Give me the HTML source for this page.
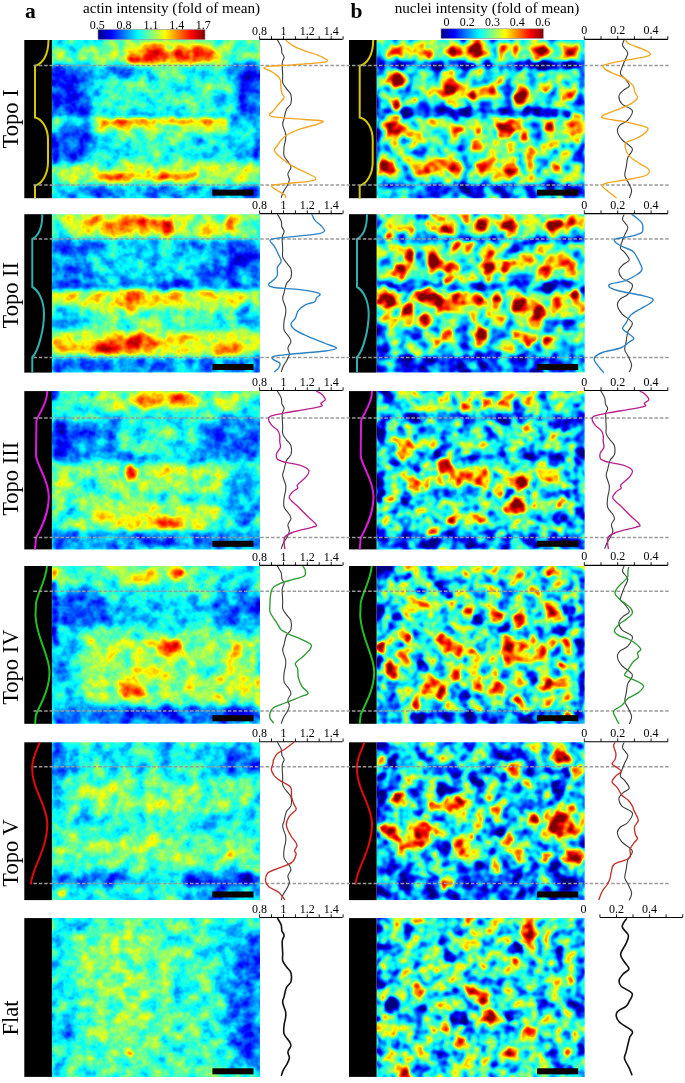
<!DOCTYPE html><html><head><meta charset="utf-8"><style>html,body{margin:0;padding:0;background:#fff;width:685px;height:1083px;overflow:hidden}svg{display:block;will-change:transform}text{font-family:"Liberation Serif",serif}</style></head><body>
<svg width="685" height="1083" viewBox="0 0 685 1083">
<defs>
<linearGradient id="jetg" x1="0" x2="1" y1="0" y2="0"><stop offset="0" stop-color="#000080"/><stop offset="0.0625" stop-color="#0000bf"/><stop offset="0.125" stop-color="#0000ff"/><stop offset="0.1875" stop-color="#0040ff"/><stop offset="0.25" stop-color="#0080ff"/><stop offset="0.3125" stop-color="#00bfff"/><stop offset="0.375" stop-color="#00ffff"/><stop offset="0.4375" stop-color="#40ffbf"/><stop offset="0.5" stop-color="#80ff80"/><stop offset="0.5625" stop-color="#bfff40"/><stop offset="0.625" stop-color="#ffff00"/><stop offset="0.6875" stop-color="#ffbf00"/><stop offset="0.75" stop-color="#ff8000"/><stop offset="0.8125" stop-color="#ff4000"/><stop offset="0.875" stop-color="#ff0000"/><stop offset="0.9375" stop-color="#bf0000"/><stop offset="1" stop-color="#800000"/></linearGradient>
<filter id="soft3" filterUnits="userSpaceOnUse" x="0" y="0" width="685" height="1083"><feGaussianBlur stdDeviation="3"/></filter>
<filter id="soft5" filterUnits="userSpaceOnUse" x="0" y="0" width="685" height="1083"><feGaussianBlur stdDeviation="5"/></filter>
<filter id="soft8" filterUnits="userSpaceOnUse" x="0" y="0" width="685" height="1083"><feGaussianBlur stdDeviation="8"/></filter>
</defs>
<rect width="685" height="1083" fill="#fff"/>
<text x="25" y="18.2" font-size="21.5" font-weight="bold">a</text>
<text x="350.5" y="18.2" font-size="21.5" font-weight="bold">b</text>
<text x="171.5" y="12.6" font-size="15.2" text-anchor="middle">actin intensity (fold of mean)</text>
<text x="487" y="12.6" font-size="15.2" text-anchor="middle">nuclei intensity (fold of mean)</text>
<rect x="98" y="29.6" width="107" height="10" fill="url(#jetg)" stroke="#888" stroke-width="0.6"/>
<rect x="441" y="28.8" width="102.3" height="9.6" fill="url(#jetg)" stroke="#888" stroke-width="0.6"/>
<text x="97.2" y="28.5" font-size="12" text-anchor="middle">0.5</text>
<text x="124.0" y="28.5" font-size="12" text-anchor="middle">0.8</text>
<text x="151.0" y="28.5" font-size="12" text-anchor="middle">1.1</text>
<text x="176.8" y="28.5" font-size="12" text-anchor="middle">1.4</text>
<text x="203.2" y="28.5" font-size="12" text-anchor="middle">1.7</text>
<text x="446.4" y="25.6" font-size="12" text-anchor="middle">0</text>
<text x="467.2" y="25.6" font-size="12" text-anchor="middle">0.2</text>
<text x="492.4" y="25.6" font-size="12" text-anchor="middle">0.3</text>
<text x="517.3" y="25.6" font-size="12" text-anchor="middle">0.4</text>
<text x="542.8" y="25.6" font-size="12" text-anchor="middle">0.6</text>
<clipPath id="c0a"><rect x="51.90" y="40.00" width="208.10" height="158.20"/></clipPath>
<filter id="f0a" filterUnits="userSpaceOnUse" x="31.9" y="20.0" width="248.1" height="198.2" color-interpolation-filters="sRGB">
<feTurbulence type="fractalNoise" baseFrequency="0.1" numOctaves="2" seed="51" result="dn"/>
<feDisplacementMap in="SourceGraphic" in2="dn" scale="5" xChannelSelector="R" yChannelSelector="G" result="dsp"/>
<feGaussianBlur in="dsp" stdDeviation="2.2" result="bl"/>
<feTurbulence type="fractalNoise" baseFrequency="0.075" numOctaves="3" seed="1" result="tn"/>
<feColorMatrix in="tn" type="matrix" values="1 0 0 0 0 1 0 0 0 0 1 0 0 0 0 0 0 0 0 1" result="tg"/>
<feComposite in="bl" in2="tg" operator="arithmetic" k1="0" k2="1" k3="0.45" k4="-0.225" result="sm"/>
<feComponentTransfer in="sm"><feFuncR type="table" tableValues="0 0 0 0 0.5 1 1 1 0.5"/><feFuncG type="table" tableValues="0 0 0.5 1 1 1 0.5 0 0"/><feFuncB type="table" tableValues="0.5 1 1 1 0.5 0 0 0 0"/><feFuncA type="linear" slope="0" intercept="1"/></feComponentTransfer>
</filter>
<g clip-path="url(#c0a)"><g filter="url(#f0a)">
<rect x="36.9" y="25.0" width="238.1" height="188.2" fill="#6b6b6b"/>
<rect x="51.9" y="40.0" width="208.0" height="25.0" rx="0" fill="#7a7a7a" filter="url(#soft3)"/>
<ellipse cx="69.9" cy="44.0" rx="14.0" ry="5.0" fill="#4c4c4c" filter="url(#soft3)"/>
<ellipse cx="93.9" cy="43.0" rx="10.0" ry="4.0" fill="#4c4c4c" filter="url(#soft3)"/>
<ellipse cx="91.9" cy="59.0" rx="40.0" ry="4.0" fill="#8f8f8f" filter="url(#soft3)"/>
<ellipse cx="69.9" cy="61.0" rx="3.0" ry="2.0" fill="#b2b2b2"/>
<ellipse cx="81.9" cy="59.0" rx="3.0" ry="2.0" fill="#adadad"/>
<ellipse cx="131.9" cy="45.0" rx="5.0" ry="3.0" fill="#999999"/>
<ellipse cx="173.9" cy="54.0" rx="47.0" ry="11.0" fill="#cccccc" filter="url(#soft3)"/>
<ellipse cx="159.9" cy="57.0" rx="10.0" ry="6.0" fill="#ededed"/>
<ellipse cx="139.9" cy="60.0" rx="12.0" ry="4.0" fill="#e6e6e6"/>
<ellipse cx="203.9" cy="54.0" rx="9.0" ry="7.0" fill="#dbdbdb"/>
<ellipse cx="169.9" cy="47.0" rx="6.0" ry="3.0" fill="#737373"/>
<ellipse cx="241.9" cy="52.0" rx="20.0" ry="10.0" fill="#7a7a7a" filter="url(#soft3)"/>
<rect x="46.9" y="65.0" width="45.0" height="58.0" rx="0" fill="#333333" filter="url(#soft5)"/>
<ellipse cx="63.9" cy="80.0" rx="14.0" ry="12.0" fill="#242424" filter="url(#soft3)"/>
<rect x="91.9" y="65.0" width="45.0" height="14.0" rx="0" fill="#454545" filter="url(#soft3)"/>
<rect x="129.9" y="66.0" width="102.0" height="50.0" rx="0" fill="#696969" filter="url(#soft5)"/>
<rect x="233.9" y="65.0" width="30.0" height="56.0" rx="0" fill="#333333" filter="url(#soft5)"/>
<ellipse cx="249.9" cy="73.0" rx="10.0" ry="10.0" fill="#1f1f1f" filter="url(#soft3)"/>
<rect x="111.9" y="114.0" width="120.0" height="3.0" rx="0" fill="#4c4c4c"/>
<rect x="101.9" y="119.0" width="125.0" height="6.0" rx="0" fill="#cccccc"/>
<ellipse cx="116.9" cy="123.0" rx="9.0" ry="5.0" fill="#ededed"/>
<ellipse cx="176.9" cy="122.0" rx="14.0" ry="3.0" fill="#e0e0e0"/>
<rect x="96.9" y="124.0" width="130.0" height="10.0" rx="0" fill="#8f8f8f" filter="url(#soft3)"/>
<rect x="51.9" y="118.0" width="50.0" height="4.0" rx="0" fill="#858585"/>
<ellipse cx="71.9" cy="145.0" rx="25.0" ry="22.0" fill="#333333" filter="url(#soft5)"/>
<ellipse cx="53.9" cy="152.0" rx="3.0" ry="14.0" fill="#1a1a1a"/>
<rect x="96.9" y="135.0" width="150.0" height="30.0" rx="0" fill="#6b6b6b" filter="url(#soft5)"/>
<ellipse cx="196.9" cy="142.0" rx="6.0" ry="6.0" fill="#474747"/>
<ellipse cx="216.9" cy="148.0" rx="5.0" ry="4.0" fill="#4c4c4c"/>
<ellipse cx="239.9" cy="152.0" rx="12.0" ry="14.0" fill="#4c4c4c" filter="url(#soft3)"/>
<rect x="253.9" y="115.0" width="6.0" height="70.0" rx="0" fill="#404040"/>
<ellipse cx="105.9" cy="142.0" rx="5.0" ry="8.0" fill="#4c4c4c"/>
<rect x="51.9" y="165.0" width="208.0" height="18.0" rx="0" fill="#8f8f8f" filter="url(#soft3)"/>
<rect x="96.9" y="173.0" width="100.0" height="7.0" rx="0" fill="#b2b2b2"/>
<ellipse cx="125.9" cy="177.0" rx="8.0" ry="3.0" fill="#d1d1d1"/>
<ellipse cx="166.9" cy="177.0" rx="12.0" ry="3.0" fill="#d9d9d9"/>
<ellipse cx="71.9" cy="177.0" rx="3.0" ry="2.0" fill="#b2b2b2"/>
<ellipse cx="219.9" cy="176.0" rx="8.0" ry="2.0" fill="#9e9e9e"/>
<rect x="51.9" y="185.0" width="208.0" height="15.0" rx="0" fill="#4c4c4c" filter="url(#soft2)"/>
<ellipse cx="251.9" cy="192.0" rx="10.0" ry="6.0" fill="#262626"/>
<ellipse cx="61.9" cy="190.0" rx="10.0" ry="5.0" fill="#616161"/>
</g></g>
<rect x="24.30" y="40.00" width="27.60" height="158.20" fill="#000"/>
<path transform="translate(0.0,0)" d="M48.5,40 C48.5,56 42,64 35,65.8 L35,117.5 C42,119 48,128 48,140 L48,162 C48,174 42,184 35,185.6 L35,198.2" fill="none" stroke="#d8c800" stroke-width="2"/>
<rect x="212.4" y="189.6" width="41.1" height="6" fill="#0d0000"/>
<clipPath id="c0b"><rect x="376.60" y="40.00" width="208.10" height="158.20"/></clipPath>
<filter id="f0b" filterUnits="userSpaceOnUse" x="356.6" y="20.0" width="248.1" height="198.2" color-interpolation-filters="sRGB">
<feTurbulence type="fractalNoise" baseFrequency="0.15" numOctaves="2" seed="52" result="dn"/>
<feDisplacementMap in="SourceGraphic" in2="dn" scale="8" xChannelSelector="R" yChannelSelector="G" result="dsp"/>
<feGaussianBlur in="dsp" stdDeviation="1.6" result="bl"/>
<feTurbulence type="fractalNoise" baseFrequency="0.07" numOctaves="2" seed="2" result="tn"/>
<feColorMatrix in="tn" type="matrix" values="1 0 0 0 0 1 0 0 0 0 1 0 0 0 0 0 0 0 0 1" result="tg"/>
<feComposite in="bl" in2="tg" operator="arithmetic" k1="0" k2="1" k3="1" k4="-0.5" result="sm"/>
<feComponentTransfer in="sm"><feFuncR type="table" tableValues="0 0 0 0 0.5 1 1 1 0.5"/><feFuncG type="table" tableValues="0 0 0.5 1 1 1 0.5 0 0"/><feFuncB type="table" tableValues="0.5 1 1 1 0.5 0 0 0 0"/><feFuncA type="linear" slope="0" intercept="1"/></feComponentTransfer>
</filter>
<g clip-path="url(#c0b)"><g filter="url(#f0b)">
<rect x="361.6" y="25.0" width="238.1" height="188.2" fill="#666666"/>
<rect x="376.6" y="40.0" width="208.0" height="22.0" rx="0" fill="#737373"/>
<rect x="376.6" y="61.0" width="208.0" height="9.0" rx="0" fill="#333333"/>
<ellipse cx="546.6" cy="66.0" rx="30.0" ry="4.0" fill="#1f1f1f"/>
<rect x="376.6" y="70.0" width="208.0" height="40.0" rx="0" fill="#6b6b6b"/>
<rect x="376.6" y="108.0" width="208.0" height="10.0" rx="0" fill="#333333"/>
<ellipse cx="451.6" cy="113.0" rx="25.0" ry="5.0" fill="#1f1f1f"/>
<ellipse cx="546.6" cy="113.0" rx="22.0" ry="5.0" fill="#1f1f1f"/>
<rect x="376.6" y="118.0" width="208.0" height="66.0" rx="0" fill="#6e6e6e"/>
<ellipse cx="476.6" cy="140.0" rx="40.0" ry="5.0" fill="#808080"/>
<rect x="376.6" y="183.0" width="208.0" height="15.0" rx="0" fill="#333333"/>
<ellipse cx="496.6" cy="192.0" rx="40.0" ry="5.0" fill="#242424"/>
<rect x="376.6" y="40.0" width="3.0" height="158.0" rx="0" fill="#333333"/>
<rect x="578.6" y="40.0" width="6.0" height="158.0" rx="0" fill="#383838"/>
<ellipse cx="394.6" cy="52.0" rx="9.0" ry="7.2" fill="#9e9e9e"/>
<ellipse cx="428.6" cy="52.0" rx="10.8" ry="9.0" fill="#9e9e9e"/>
<ellipse cx="452.6" cy="51.0" rx="9.0" ry="9.0" fill="#9e9e9e"/>
<ellipse cx="475.6" cy="51.0" rx="10.8" ry="12.6" fill="#9e9e9e"/>
<ellipse cx="501.6" cy="51.0" rx="7.2" ry="7.2" fill="#9e9e9e"/>
<ellipse cx="514.6" cy="52.0" rx="5.4" ry="5.4" fill="#9e9e9e"/>
<ellipse cx="543.6" cy="52.0" rx="10.8" ry="9.0" fill="#9e9e9e"/>
<ellipse cx="567.6" cy="54.0" rx="7.2" ry="7.2" fill="#9e9e9e"/>
<ellipse cx="397.6" cy="81.0" rx="10.8" ry="10.8" fill="#9e9e9e"/>
<ellipse cx="450.6" cy="87.0" rx="12.6" ry="16.2" fill="#9e9e9e"/>
<ellipse cx="472.6" cy="95.0" rx="5.4" ry="7.2" fill="#9e9e9e"/>
<ellipse cx="491.6" cy="90.0" rx="7.2" ry="7.2" fill="#9e9e9e"/>
<ellipse cx="520.6" cy="98.0" rx="10.8" ry="10.8" fill="#9e9e9e"/>
<ellipse cx="546.6" cy="87.0" rx="7.2" ry="7.2" fill="#9e9e9e"/>
<ellipse cx="416.6" cy="98.0" rx="5.4" ry="5.4" fill="#9e9e9e"/>
<ellipse cx="396.6" cy="104.0" rx="6.3" ry="6.3" fill="#9e9e9e"/>
<ellipse cx="569.6" cy="96.0" rx="7.2" ry="7.2" fill="#9e9e9e"/>
<ellipse cx="501.6" cy="80.0" rx="5.4" ry="5.4" fill="#9e9e9e"/>
<ellipse cx="394.6" cy="127.0" rx="14.4" ry="12.6" fill="#9e9e9e"/>
<ellipse cx="452.6" cy="128.0" rx="9.0" ry="9.0" fill="#9e9e9e"/>
<ellipse cx="476.6" cy="130.0" rx="6.3" ry="6.3" fill="#9e9e9e"/>
<ellipse cx="504.6" cy="131.0" rx="16.2" ry="14.4" fill="#9e9e9e"/>
<ellipse cx="523.6" cy="137.0" rx="7.2" ry="7.2" fill="#9e9e9e"/>
<ellipse cx="549.6" cy="128.0" rx="5.4" ry="5.4" fill="#9e9e9e"/>
<ellipse cx="575.6" cy="128.0" rx="10.8" ry="14.4" fill="#9e9e9e"/>
<ellipse cx="555.6" cy="146.0" rx="5.4" ry="5.4" fill="#9e9e9e"/>
<ellipse cx="412.6" cy="145.0" rx="5.4" ry="5.4" fill="#9e9e9e"/>
<ellipse cx="476.6" cy="146.0" rx="5.4" ry="5.4" fill="#9e9e9e"/>
<ellipse cx="388.6" cy="168.0" rx="10.8" ry="14.4" fill="#9e9e9e"/>
<ellipse cx="431.6" cy="168.0" rx="14.4" ry="10.8" fill="#9e9e9e"/>
<ellipse cx="455.6" cy="171.0" rx="9.0" ry="9.0" fill="#9e9e9e"/>
<ellipse cx="482.6" cy="168.0" rx="9.0" ry="9.0" fill="#9e9e9e"/>
<ellipse cx="510.6" cy="168.0" rx="14.4" ry="10.8" fill="#9e9e9e"/>
<ellipse cx="528.6" cy="162.0" rx="9.0" ry="9.0" fill="#9e9e9e"/>
<ellipse cx="555.6" cy="168.0" rx="7.2" ry="7.2" fill="#9e9e9e"/>
<ellipse cx="575.6" cy="166.0" rx="5.4" ry="5.4" fill="#9e9e9e"/>
<ellipse cx="416.6" cy="174.0" rx="5.4" ry="5.4" fill="#9e9e9e"/>
<ellipse cx="394.6" cy="52.0" rx="5.0" ry="4.0" fill="#e6e6e6"/>
<ellipse cx="428.6" cy="52.0" rx="6.0" ry="5.0" fill="#f5f5f5"/>
<ellipse cx="452.6" cy="51.0" rx="5.0" ry="5.0" fill="#e6e6e6"/>
<ellipse cx="475.6" cy="51.0" rx="6.0" ry="7.0" fill="#ededed"/>
<ellipse cx="501.6" cy="51.0" rx="4.0" ry="4.0" fill="#c7c7c7"/>
<ellipse cx="514.6" cy="52.0" rx="3.0" ry="3.0" fill="#cccccc"/>
<ellipse cx="543.6" cy="52.0" rx="6.0" ry="5.0" fill="#f5f5f5"/>
<ellipse cx="567.6" cy="54.0" rx="4.0" ry="4.0" fill="#d9d9d9"/>
<ellipse cx="397.6" cy="81.0" rx="6.0" ry="6.0" fill="#ededed"/>
<ellipse cx="450.6" cy="87.0" rx="7.0" ry="9.0" fill="#f2f2f2"/>
<ellipse cx="472.6" cy="95.0" rx="3.0" ry="4.0" fill="#e6e6e6"/>
<ellipse cx="491.6" cy="90.0" rx="4.0" ry="4.0" fill="#c7c7c7"/>
<ellipse cx="520.6" cy="98.0" rx="6.0" ry="6.0" fill="#f2f2f2"/>
<ellipse cx="546.6" cy="87.0" rx="4.0" ry="4.0" fill="#d9d9d9"/>
<ellipse cx="416.6" cy="98.0" rx="3.0" ry="3.0" fill="#cccccc"/>
<ellipse cx="396.6" cy="104.0" rx="3.5" ry="3.5" fill="#d1d1d1"/>
<ellipse cx="569.6" cy="96.0" rx="4.0" ry="4.0" fill="#b8b8b8"/>
<ellipse cx="501.6" cy="80.0" rx="3.0" ry="3.0" fill="#bfbfbf"/>
<ellipse cx="394.6" cy="127.0" rx="8.0" ry="7.0" fill="#f7f7f7"/>
<ellipse cx="452.6" cy="128.0" rx="5.0" ry="5.0" fill="#d9d9d9"/>
<ellipse cx="476.6" cy="130.0" rx="3.5" ry="3.5" fill="#cccccc"/>
<ellipse cx="504.6" cy="131.0" rx="9.0" ry="8.0" fill="#f5f5f5"/>
<ellipse cx="523.6" cy="137.0" rx="4.0" ry="4.0" fill="#d9d9d9"/>
<ellipse cx="549.6" cy="128.0" rx="3.0" ry="3.0" fill="#cccccc"/>
<ellipse cx="575.6" cy="128.0" rx="6.0" ry="8.0" fill="#e6e6e6"/>
<ellipse cx="555.6" cy="146.0" rx="3.0" ry="3.0" fill="#bfbfbf"/>
<ellipse cx="412.6" cy="145.0" rx="3.0" ry="3.0" fill="#bfbfbf"/>
<ellipse cx="476.6" cy="146.0" rx="3.0" ry="3.0" fill="#b8b8b8"/>
<ellipse cx="388.6" cy="168.0" rx="6.0" ry="8.0" fill="#f7f7f7"/>
<ellipse cx="431.6" cy="168.0" rx="8.0" ry="6.0" fill="#f5f5f5"/>
<ellipse cx="455.6" cy="171.0" rx="5.0" ry="5.0" fill="#e0e0e0"/>
<ellipse cx="482.6" cy="168.0" rx="5.0" ry="5.0" fill="#e0e0e0"/>
<ellipse cx="510.6" cy="168.0" rx="8.0" ry="6.0" fill="#f5f5f5"/>
<ellipse cx="528.6" cy="162.0" rx="5.0" ry="5.0" fill="#e6e6e6"/>
<ellipse cx="555.6" cy="168.0" rx="4.0" ry="4.0" fill="#cccccc"/>
<ellipse cx="575.6" cy="166.0" rx="3.0" ry="3.0" fill="#cccccc"/>
<ellipse cx="416.6" cy="174.0" rx="3.0" ry="3.0" fill="#c7c7c7"/>
</g></g>
<rect x="349.00" y="40.00" width="27.60" height="158.20" fill="#000"/>
<path transform="translate(324.7,0)" d="M48.5,40 C48.5,56 42,64 35,65.8 L35,117.5 C42,119 48,128 48,140 L48,162 C48,174 42,184 35,185.6 L35,198.2" fill="none" stroke="#d8c800" stroke-width="2"/>
<rect x="537.1" y="189.6" width="41.1" height="6" fill="#0d0000"/>
<line x1="33.4" x2="668.6" y1="65.4" y2="65.4" stroke="#9a9a9a" stroke-width="1.5" stroke-dasharray="3.5 1.9"/>
<line x1="33.4" x2="668.6" y1="185.0" y2="185.0" stroke="#9a9a9a" stroke-width="1.5" stroke-dasharray="3.5 1.9"/>
<text transform="translate(18.4,118.9) rotate(-90)" font-size="22.5" text-anchor="middle">Topo I</text>
<path d="M259.6,39.4 H342.6" stroke="#000" stroke-width="1.1" fill="none"/>
<line x1="259.6" x2="259.6" y1="39.4" y2="36.2" stroke="#000" stroke-width="0.9"/>
<line x1="271.5" x2="271.5" y1="39.4" y2="36.2" stroke="#000" stroke-width="0.9"/>
<line x1="283.5" x2="283.5" y1="39.4" y2="36.2" stroke="#000" stroke-width="0.9"/>
<line x1="295.4" x2="295.4" y1="39.4" y2="36.2" stroke="#000" stroke-width="0.9"/>
<line x1="307.3" x2="307.3" y1="39.4" y2="36.2" stroke="#000" stroke-width="0.9"/>
<line x1="319.2" x2="319.2" y1="39.4" y2="36.2" stroke="#000" stroke-width="0.9"/>
<line x1="331.2" x2="331.2" y1="39.4" y2="36.2" stroke="#000" stroke-width="0.9"/>
<line x1="343.1" x2="343.1" y1="39.4" y2="36.2" stroke="#000" stroke-width="0.9"/>
<text x="259.6" y="34.5" font-size="12" text-anchor="middle">0.8</text>
<text x="283.5" y="34.5" font-size="12" text-anchor="middle">1</text>
<text x="307.3" y="34.5" font-size="12" text-anchor="middle">1.2</text>
<text x="331.2" y="34.5" font-size="12" text-anchor="middle">1.4</text>
<path d="M584.3,39.4 H667.8" stroke="#000" stroke-width="1.1" fill="none"/>
<line x1="584.3" x2="584.3" y1="39.4" y2="36.2" stroke="#000" stroke-width="0.9"/>
<line x1="601.0" x2="601.0" y1="39.4" y2="36.2" stroke="#000" stroke-width="0.9"/>
<line x1="617.7" x2="617.7" y1="39.4" y2="36.2" stroke="#000" stroke-width="0.9"/>
<line x1="634.4" x2="634.4" y1="39.4" y2="36.2" stroke="#000" stroke-width="0.9"/>
<line x1="651.1" x2="651.1" y1="39.4" y2="36.2" stroke="#000" stroke-width="0.9"/>
<line x1="667.8" x2="667.8" y1="39.4" y2="36.2" stroke="#000" stroke-width="0.9"/>
<text x="584.3" y="34.4" font-size="12" text-anchor="middle">0</text>
<text x="617.7" y="34.4" font-size="12" text-anchor="middle">0.2</text>
<text x="651.1" y="34.4" font-size="12" text-anchor="middle">0.4</text>
<clipPath id="c1a"><rect x="51.90" y="214.20" width="208.10" height="158.40"/></clipPath>
<filter id="f1a" filterUnits="userSpaceOnUse" x="31.9" y="194.2" width="248.1" height="198.4" color-interpolation-filters="sRGB">
<feTurbulence type="fractalNoise" baseFrequency="0.1" numOctaves="2" seed="53" result="dn"/>
<feDisplacementMap in="SourceGraphic" in2="dn" scale="5" xChannelSelector="R" yChannelSelector="G" result="dsp"/>
<feGaussianBlur in="dsp" stdDeviation="2.2" result="bl"/>
<feTurbulence type="fractalNoise" baseFrequency="0.075" numOctaves="3" seed="3" result="tn"/>
<feColorMatrix in="tn" type="matrix" values="1 0 0 0 0 1 0 0 0 0 1 0 0 0 0 0 0 0 0 1" result="tg"/>
<feComposite in="bl" in2="tg" operator="arithmetic" k1="0" k2="1" k3="0.45" k4="-0.225" result="sm"/>
<feComponentTransfer in="sm"><feFuncR type="table" tableValues="0 0 0 0 0.5 1 1 1 0.5"/><feFuncG type="table" tableValues="0 0 0.5 1 1 1 0.5 0 0"/><feFuncB type="table" tableValues="0.5 1 1 1 0.5 0 0 0 0"/><feFuncA type="linear" slope="0" intercept="1"/></feComponentTransfer>
</filter>
<g clip-path="url(#c1a)"><g filter="url(#f1a)">
<rect x="36.9" y="199.2" width="238.1" height="188.4" fill="#6b6b6b"/>
<rect x="51.9" y="214.2" width="208.0" height="24.0" rx="0" fill="#949494" filter="url(#soft3)"/>
<ellipse cx="56.9" cy="226.2" rx="6.0" ry="10.0" fill="#666666" filter="url(#soft3)"/>
<ellipse cx="131.9" cy="225.2" rx="45.0" ry="9.0" fill="#b2b2b2" filter="url(#soft3)"/>
<ellipse cx="166.9" cy="228.2" rx="6.0" ry="6.0" fill="#ebebeb"/>
<ellipse cx="146.9" cy="222.2" rx="10.0" ry="4.0" fill="#cccccc"/>
<ellipse cx="111.9" cy="226.2" rx="10.0" ry="5.0" fill="#c7c7c7"/>
<ellipse cx="96.9" cy="220.2" rx="6.0" ry="3.0" fill="#bfbfbf"/>
<ellipse cx="191.9" cy="226.2" rx="18.0" ry="8.0" fill="#8f8f8f" filter="url(#soft3)"/>
<ellipse cx="222.9" cy="227.2" rx="10.0" ry="6.0" fill="#b2b2b2"/>
<ellipse cx="229.9" cy="220.2" rx="4.0" ry="3.0" fill="#b8b8b8"/>
<ellipse cx="249.9" cy="226.2" rx="10.0" ry="12.0" fill="#6b6b6b" filter="url(#soft3)"/>
<rect x="51.9" y="239.2" width="208.0" height="47.0" rx="0" fill="#4c4c4c" filter="url(#soft3)"/>
<ellipse cx="66.9" cy="249.2" rx="14.0" ry="10.0" fill="#262626" filter="url(#soft3)"/>
<ellipse cx="66.9" cy="269.2" rx="15.0" ry="15.0" fill="#383838" filter="url(#soft3)"/>
<ellipse cx="141.9" cy="262.2" rx="55.0" ry="18.0" fill="#5c5c5c" filter="url(#soft5)"/>
<ellipse cx="241.9" cy="256.2" rx="18.0" ry="15.0" fill="#292929" filter="url(#soft3)"/>
<ellipse cx="216.9" cy="272.2" rx="20.0" ry="12.0" fill="#3d3d3d" filter="url(#soft3)"/>
<rect x="51.9" y="282.2" width="208.0" height="7.0" rx="0" fill="#3d3d3d"/>
<ellipse cx="171.9" cy="284.2" rx="25.0" ry="4.0" fill="#292929"/>
<rect x="51.9" y="290.2" width="208.0" height="22.0" rx="0" fill="#949494" filter="url(#soft2)"/>
<ellipse cx="131.9" cy="302.2" rx="14.0" ry="12.0" fill="#c2c2c2" filter="url(#soft3)"/>
<ellipse cx="131.9" cy="298.2" rx="8.0" ry="6.0" fill="#e0e0e0"/>
<ellipse cx="169.9" cy="295.2" rx="8.0" ry="4.0" fill="#b8b8b8"/>
<ellipse cx="206.9" cy="294.2" rx="10.0" ry="5.0" fill="#b2b2b2"/>
<ellipse cx="111.9" cy="294.2" rx="10.0" ry="3.0" fill="#adadad"/>
<rect x="51.9" y="310.2" width="208.0" height="22.0" rx="0" fill="#707070" filter="url(#soft3)"/>
<ellipse cx="66.9" cy="320.2" rx="18.0" ry="14.0" fill="#4c4c4c" filter="url(#soft3)"/>
<ellipse cx="246.9" cy="319.2" rx="13.0" ry="15.0" fill="#4c4c4c" filter="url(#soft3)"/>
<ellipse cx="151.9" cy="322.2" rx="30.0" ry="8.0" fill="#808080" filter="url(#soft3)"/>
<rect x="51.9" y="331.2" width="208.0" height="25.0" rx="0" fill="#999999" filter="url(#soft3)"/>
<ellipse cx="123.9" cy="344.2" rx="35.0" ry="9.0" fill="#cccccc" filter="url(#soft3)"/>
<ellipse cx="133.9" cy="342.2" rx="9.0" ry="6.0" fill="#f0f0f0"/>
<ellipse cx="106.9" cy="346.2" rx="12.0" ry="6.0" fill="#e6e6e6"/>
<ellipse cx="66.9" cy="344.2" rx="15.0" ry="7.0" fill="#b2b2b2"/>
<ellipse cx="231.9" cy="348.2" rx="20.0" ry="6.0" fill="#b8b8b8"/>
<ellipse cx="181.9" cy="339.2" rx="12.0" ry="5.0" fill="#adadad"/>
<rect x="51.9" y="357.2" width="208.0" height="16.0" rx="0" fill="#424242" filter="url(#soft2)"/>
<ellipse cx="71.9" cy="364.2" rx="15.0" ry="5.0" fill="#333333"/>
</g></g>
<rect x="24.30" y="214.20" width="27.60" height="158.40" fill="#000"/>
<path transform="translate(0.0,0)" d="M42.3,214.2 C42.3,228 38,236 32.3,239 L32.3,287 C38,290 44,300 44,314 C44,330 38,352 32.3,357 L32.3,372.6" fill="none" stroke="#30b0b0" stroke-width="2"/>
<rect x="212.4" y="364.0" width="41.1" height="6" fill="#0d0000"/>
<clipPath id="c1b"><rect x="376.60" y="214.20" width="208.10" height="158.40"/></clipPath>
<filter id="f1b" filterUnits="userSpaceOnUse" x="356.6" y="194.2" width="248.1" height="198.4" color-interpolation-filters="sRGB">
<feTurbulence type="fractalNoise" baseFrequency="0.15" numOctaves="2" seed="54" result="dn"/>
<feDisplacementMap in="SourceGraphic" in2="dn" scale="8" xChannelSelector="R" yChannelSelector="G" result="dsp"/>
<feGaussianBlur in="dsp" stdDeviation="1.6" result="bl"/>
<feTurbulence type="fractalNoise" baseFrequency="0.07" numOctaves="2" seed="4" result="tn"/>
<feColorMatrix in="tn" type="matrix" values="1 0 0 0 0 1 0 0 0 0 1 0 0 0 0 0 0 0 0 1" result="tg"/>
<feComposite in="bl" in2="tg" operator="arithmetic" k1="0" k2="1" k3="1" k4="-0.5" result="sm"/>
<feComponentTransfer in="sm"><feFuncR type="table" tableValues="0 0 0 0 0.5 1 1 1 0.5"/><feFuncG type="table" tableValues="0 0 0.5 1 1 1 0.5 0 0"/><feFuncB type="table" tableValues="0.5 1 1 1 0.5 0 0 0 0"/><feFuncA type="linear" slope="0" intercept="1"/></feComponentTransfer>
</filter>
<g clip-path="url(#c1b)"><g filter="url(#f1b)">
<rect x="361.6" y="199.2" width="238.1" height="188.4" fill="#6b6b6b"/>
<rect x="376.6" y="214.2" width="208.0" height="24.0" rx="0" fill="#808080"/>
<rect x="376.6" y="214.2" width="45.0" height="24.0" rx="0" fill="#757575"/>
<ellipse cx="426.6" cy="224.2" rx="5.0" ry="10.0" fill="#404040"/>
<rect x="376.6" y="214.2" width="3.0" height="24.0" rx="0" fill="#333333"/>
<rect x="376.6" y="237.2" width="208.0" height="7.0" rx="0" fill="#474747"/>
<ellipse cx="528.6" cy="243.2" rx="10.0" ry="4.0" fill="#1f1f1f"/>
<rect x="376.6" y="244.2" width="208.0" height="38.0" rx="0" fill="#737373"/>
<rect x="376.6" y="281.2" width="208.0" height="11.0" rx="0" fill="#3d3d3d"/>
<ellipse cx="394.6" cy="287.2" rx="15.0" ry="5.0" fill="#1f1f1f"/>
<ellipse cx="558.6" cy="285.2" rx="15.0" ry="5.0" fill="#1f1f1f"/>
<ellipse cx="486.6" cy="286.2" rx="25.0" ry="3.0" fill="#333333"/>
<rect x="376.6" y="292.2" width="208.0" height="28.0" rx="0" fill="#808080"/>
<rect x="376.6" y="320.2" width="208.0" height="36.0" rx="0" fill="#6b6b6b"/>
<rect x="376.6" y="324.2" width="10.0" height="48.0" rx="0" fill="#333333"/>
<rect x="376.6" y="355.2" width="208.0" height="18.0" rx="0" fill="#292929"/>
<ellipse cx="436.6" cy="364.2" rx="30.0" ry="5.0" fill="#1f1f1f"/>
<ellipse cx="516.6" cy="249.2" rx="8.0" ry="5.0" fill="#404040"/>
<ellipse cx="416.6" cy="332.2" rx="8.0" ry="6.0" fill="#404040"/>
<ellipse cx="496.6" cy="354.2" rx="12.0" ry="4.0" fill="#333333"/>
<ellipse cx="571.6" cy="329.2" rx="8.0" ry="10.0" fill="#404040"/>
<ellipse cx="461.6" cy="329.2" rx="6.0" ry="5.0" fill="#474747"/>
<ellipse cx="400.6" cy="229.2" rx="5.4" ry="5.4" fill="#9e9e9e"/>
<ellipse cx="409.6" cy="229.2" rx="5.4" ry="5.4" fill="#9e9e9e"/>
<ellipse cx="416.6" cy="222.2" rx="5.4" ry="5.4" fill="#9e9e9e"/>
<ellipse cx="388.6" cy="236.2" rx="5.4" ry="3.6" fill="#9e9e9e"/>
<ellipse cx="441.6" cy="219.2" rx="5.4" ry="5.4" fill="#9e9e9e"/>
<ellipse cx="456.6" cy="246.2" rx="7.2" ry="7.2" fill="#9e9e9e"/>
<ellipse cx="456.6" cy="267.2" rx="5.4" ry="5.4" fill="#9e9e9e"/>
<ellipse cx="449.6" cy="279.2" rx="5.4" ry="5.4" fill="#9e9e9e"/>
<ellipse cx="440.6" cy="229.2" rx="14.4" ry="7.2" fill="#9e9e9e"/>
<ellipse cx="464.6" cy="219.2" rx="7.2" ry="7.2" fill="#9e9e9e"/>
<ellipse cx="481.6" cy="225.2" rx="9.0" ry="9.0" fill="#9e9e9e"/>
<ellipse cx="510.6" cy="226.2" rx="16.2" ry="9.0" fill="#9e9e9e"/>
<ellipse cx="532.6" cy="220.2" rx="7.2" ry="7.2" fill="#9e9e9e"/>
<ellipse cx="555.6" cy="225.2" rx="12.6" ry="9.0" fill="#9e9e9e"/>
<ellipse cx="570.6" cy="220.2" rx="7.2" ry="7.2" fill="#9e9e9e"/>
<ellipse cx="567.6" cy="232.2" rx="5.4" ry="5.4" fill="#9e9e9e"/>
<ellipse cx="431.6" cy="224.2" rx="7.2" ry="5.4" fill="#8c8c8c"/>
<ellipse cx="399.6" cy="272.2" rx="12.6" ry="12.6" fill="#9e9e9e"/>
<ellipse cx="409.6" cy="256.2" rx="7.2" ry="7.2" fill="#9e9e9e"/>
<ellipse cx="432.6" cy="262.2" rx="10.8" ry="10.8" fill="#9e9e9e"/>
<ellipse cx="449.6" cy="269.2" rx="7.2" ry="7.2" fill="#9e9e9e"/>
<ellipse cx="467.6" cy="247.2" rx="7.2" ry="7.2" fill="#9e9e9e"/>
<ellipse cx="488.6" cy="269.2" rx="10.8" ry="10.8" fill="#9e9e9e"/>
<ellipse cx="485.6" cy="253.2" rx="7.2" ry="7.2" fill="#9e9e9e"/>
<ellipse cx="506.6" cy="266.2" rx="9.0" ry="9.0" fill="#9e9e9e"/>
<ellipse cx="524.6" cy="256.2" rx="7.2" ry="7.2" fill="#9e9e9e"/>
<ellipse cx="543.6" cy="272.2" rx="9.0" ry="9.0" fill="#9e9e9e"/>
<ellipse cx="567.6" cy="267.2" rx="10.8" ry="10.8" fill="#9e9e9e"/>
<ellipse cx="552.6" cy="259.2" rx="7.2" ry="7.2" fill="#9e9e9e"/>
<ellipse cx="447.6" cy="279.2" rx="5.4" ry="5.4" fill="#9e9e9e"/>
<ellipse cx="385.6" cy="300.2" rx="14.4" ry="14.4" fill="#9e9e9e"/>
<ellipse cx="431.6" cy="300.2" rx="23.4" ry="12.6" fill="#9e9e9e"/>
<ellipse cx="458.6" cy="300.2" rx="10.8" ry="10.8" fill="#9e9e9e"/>
<ellipse cx="476.6" cy="299.2" rx="9.0" ry="9.0" fill="#9e9e9e"/>
<ellipse cx="497.6" cy="302.2" rx="10.8" ry="10.8" fill="#9e9e9e"/>
<ellipse cx="518.6" cy="305.2" rx="16.2" ry="10.8" fill="#9e9e9e"/>
<ellipse cx="540.6" cy="311.2" rx="10.8" ry="10.8" fill="#9e9e9e"/>
<ellipse cx="556.6" cy="302.2" rx="10.8" ry="10.8" fill="#9e9e9e"/>
<ellipse cx="576.6" cy="296.2" rx="7.2" ry="7.2" fill="#9e9e9e"/>
<ellipse cx="408.6" cy="308.2" rx="9.0" ry="9.0" fill="#9e9e9e"/>
<ellipse cx="424.6" cy="320.2" rx="9.0" ry="9.0" fill="#9e9e9e"/>
<ellipse cx="482.6" cy="335.2" rx="9.0" ry="9.0" fill="#9e9e9e"/>
<ellipse cx="515.6" cy="335.2" rx="7.2" ry="7.2" fill="#9e9e9e"/>
<ellipse cx="528.6" cy="341.2" rx="9.0" ry="9.0" fill="#9e9e9e"/>
<ellipse cx="446.6" cy="335.2" rx="7.2" ry="7.2" fill="#9e9e9e"/>
<ellipse cx="473.6" cy="317.2" rx="5.4" ry="5.4" fill="#9e9e9e"/>
<ellipse cx="546.6" cy="341.2" rx="5.4" ry="5.4" fill="#9e9e9e"/>
<ellipse cx="564.6" cy="314.2" rx="5.4" ry="5.4" fill="#9e9e9e"/>
<ellipse cx="437.6" cy="344.2" rx="5.4" ry="5.4" fill="#9e9e9e"/>
<ellipse cx="400.6" cy="229.2" rx="3.0" ry="3.0" fill="#bfbfbf"/>
<ellipse cx="409.6" cy="229.2" rx="3.0" ry="3.0" fill="#bfbfbf"/>
<ellipse cx="416.6" cy="222.2" rx="3.0" ry="3.0" fill="#b8b8b8"/>
<ellipse cx="388.6" cy="236.2" rx="3.0" ry="2.0" fill="#b8b8b8"/>
<ellipse cx="441.6" cy="219.2" rx="3.0" ry="3.0" fill="#c7c7c7"/>
<ellipse cx="456.6" cy="246.2" rx="4.0" ry="4.0" fill="#d9d9d9"/>
<ellipse cx="456.6" cy="267.2" rx="3.0" ry="3.0" fill="#c7c7c7"/>
<ellipse cx="449.6" cy="279.2" rx="3.0" ry="3.0" fill="#bfbfbf"/>
<ellipse cx="440.6" cy="229.2" rx="8.0" ry="4.0" fill="#f5f5f5"/>
<ellipse cx="464.6" cy="219.2" rx="4.0" ry="4.0" fill="#d9d9d9"/>
<ellipse cx="481.6" cy="225.2" rx="5.0" ry="5.0" fill="#f2f2f2"/>
<ellipse cx="510.6" cy="226.2" rx="9.0" ry="5.0" fill="#f5f5f5"/>
<ellipse cx="532.6" cy="220.2" rx="4.0" ry="4.0" fill="#c7c7c7"/>
<ellipse cx="555.6" cy="225.2" rx="7.0" ry="5.0" fill="#f5f5f5"/>
<ellipse cx="570.6" cy="220.2" rx="4.0" ry="4.0" fill="#d9d9d9"/>
<ellipse cx="567.6" cy="232.2" rx="3.0" ry="3.0" fill="#c7c7c7"/>
<ellipse cx="431.6" cy="224.2" rx="4.0" ry="3.0" fill="#b2b2b2"/>
<ellipse cx="399.6" cy="272.2" rx="7.0" ry="7.0" fill="#f5f5f5"/>
<ellipse cx="409.6" cy="256.2" rx="4.0" ry="4.0" fill="#d9d9d9"/>
<ellipse cx="432.6" cy="262.2" rx="6.0" ry="6.0" fill="#f2f2f2"/>
<ellipse cx="449.6" cy="269.2" rx="4.0" ry="4.0" fill="#cccccc"/>
<ellipse cx="467.6" cy="247.2" rx="4.0" ry="4.0" fill="#cccccc"/>
<ellipse cx="488.6" cy="269.2" rx="6.0" ry="6.0" fill="#f2f2f2"/>
<ellipse cx="485.6" cy="253.2" rx="4.0" ry="4.0" fill="#cccccc"/>
<ellipse cx="506.6" cy="266.2" rx="5.0" ry="5.0" fill="#ededed"/>
<ellipse cx="524.6" cy="256.2" rx="4.0" ry="4.0" fill="#cccccc"/>
<ellipse cx="543.6" cy="272.2" rx="5.0" ry="5.0" fill="#e0e0e0"/>
<ellipse cx="567.6" cy="267.2" rx="6.0" ry="6.0" fill="#ededed"/>
<ellipse cx="552.6" cy="259.2" rx="4.0" ry="4.0" fill="#d9d9d9"/>
<ellipse cx="447.6" cy="279.2" rx="3.0" ry="3.0" fill="#cccccc"/>
<ellipse cx="385.6" cy="300.2" rx="8.0" ry="8.0" fill="#f7f7f7"/>
<ellipse cx="431.6" cy="300.2" rx="13.0" ry="7.0" fill="#f7f7f7"/>
<ellipse cx="458.6" cy="300.2" rx="6.0" ry="6.0" fill="#e6e6e6"/>
<ellipse cx="476.6" cy="299.2" rx="5.0" ry="5.0" fill="#e6e6e6"/>
<ellipse cx="497.6" cy="302.2" rx="6.0" ry="6.0" fill="#f2f2f2"/>
<ellipse cx="518.6" cy="305.2" rx="9.0" ry="6.0" fill="#f2f2f2"/>
<ellipse cx="540.6" cy="311.2" rx="6.0" ry="6.0" fill="#ebebeb"/>
<ellipse cx="556.6" cy="302.2" rx="6.0" ry="6.0" fill="#e6e6e6"/>
<ellipse cx="576.6" cy="296.2" rx="4.0" ry="4.0" fill="#d9d9d9"/>
<ellipse cx="408.6" cy="308.2" rx="5.0" ry="5.0" fill="#f2f2f2"/>
<ellipse cx="424.6" cy="320.2" rx="5.0" ry="5.0" fill="#e0e0e0"/>
<ellipse cx="482.6" cy="335.2" rx="5.0" ry="5.0" fill="#f2f2f2"/>
<ellipse cx="515.6" cy="335.2" rx="4.0" ry="4.0" fill="#e0e0e0"/>
<ellipse cx="528.6" cy="341.2" rx="5.0" ry="5.0" fill="#e6e6e6"/>
<ellipse cx="446.6" cy="335.2" rx="4.0" ry="4.0" fill="#cccccc"/>
<ellipse cx="473.6" cy="317.2" rx="3.0" ry="3.0" fill="#cccccc"/>
<ellipse cx="546.6" cy="341.2" rx="3.0" ry="3.0" fill="#cccccc"/>
<ellipse cx="564.6" cy="314.2" rx="3.0" ry="3.0" fill="#bfbfbf"/>
<ellipse cx="437.6" cy="344.2" rx="3.0" ry="3.0" fill="#bfbfbf"/>
</g></g>
<rect x="349.00" y="214.20" width="27.60" height="158.40" fill="#000"/>
<path transform="translate(324.7,0)" d="M42.3,214.2 C42.3,228 38,236 32.3,239 L32.3,287 C38,290 44,300 44,314 C44,330 38,352 32.3,357 L32.3,372.6" fill="none" stroke="#30b0b0" stroke-width="2"/>
<rect x="537.1" y="364.0" width="41.1" height="6" fill="#0d0000"/>
<line x1="33.4" x2="668.6" y1="238.9" y2="238.9" stroke="#9a9a9a" stroke-width="1.5" stroke-dasharray="3.5 1.9"/>
<line x1="33.4" x2="668.6" y1="357.5" y2="357.5" stroke="#9a9a9a" stroke-width="1.5" stroke-dasharray="3.5 1.9"/>
<text transform="translate(18.4,295.2) rotate(-90)" font-size="22.5" text-anchor="middle">Topo II</text>
<path d="M259.6,213.6 H342.6" stroke="#000" stroke-width="1.1" fill="none"/>
<line x1="259.6" x2="259.6" y1="213.6" y2="210.4" stroke="#000" stroke-width="0.9"/>
<line x1="271.5" x2="271.5" y1="213.6" y2="210.4" stroke="#000" stroke-width="0.9"/>
<line x1="283.5" x2="283.5" y1="213.6" y2="210.4" stroke="#000" stroke-width="0.9"/>
<line x1="295.4" x2="295.4" y1="213.6" y2="210.4" stroke="#000" stroke-width="0.9"/>
<line x1="307.3" x2="307.3" y1="213.6" y2="210.4" stroke="#000" stroke-width="0.9"/>
<line x1="319.2" x2="319.2" y1="213.6" y2="210.4" stroke="#000" stroke-width="0.9"/>
<line x1="331.2" x2="331.2" y1="213.6" y2="210.4" stroke="#000" stroke-width="0.9"/>
<line x1="343.1" x2="343.1" y1="213.6" y2="210.4" stroke="#000" stroke-width="0.9"/>
<text x="259.6" y="208.7" font-size="12" text-anchor="middle">0.8</text>
<text x="283.5" y="208.7" font-size="12" text-anchor="middle">1</text>
<text x="307.3" y="208.7" font-size="12" text-anchor="middle">1.2</text>
<text x="331.2" y="208.7" font-size="12" text-anchor="middle">1.4</text>
<path d="M584.3,213.6 H667.8" stroke="#000" stroke-width="1.1" fill="none"/>
<line x1="584.3" x2="584.3" y1="213.6" y2="210.4" stroke="#000" stroke-width="0.9"/>
<line x1="601.0" x2="601.0" y1="213.6" y2="210.4" stroke="#000" stroke-width="0.9"/>
<line x1="617.7" x2="617.7" y1="213.6" y2="210.4" stroke="#000" stroke-width="0.9"/>
<line x1="634.4" x2="634.4" y1="213.6" y2="210.4" stroke="#000" stroke-width="0.9"/>
<line x1="651.1" x2="651.1" y1="213.6" y2="210.4" stroke="#000" stroke-width="0.9"/>
<line x1="667.8" x2="667.8" y1="213.6" y2="210.4" stroke="#000" stroke-width="0.9"/>
<text x="584.3" y="208.6" font-size="12" text-anchor="middle">0</text>
<text x="617.7" y="208.6" font-size="12" text-anchor="middle">0.2</text>
<text x="651.1" y="208.6" font-size="12" text-anchor="middle">0.4</text>
<clipPath id="c2a"><rect x="51.90" y="391.10" width="208.10" height="158.30"/></clipPath>
<filter id="f2a" filterUnits="userSpaceOnUse" x="31.9" y="371.1" width="248.1" height="198.3" color-interpolation-filters="sRGB">
<feTurbulence type="fractalNoise" baseFrequency="0.1" numOctaves="2" seed="55" result="dn"/>
<feDisplacementMap in="SourceGraphic" in2="dn" scale="5" xChannelSelector="R" yChannelSelector="G" result="dsp"/>
<feGaussianBlur in="dsp" stdDeviation="2.2" result="bl"/>
<feTurbulence type="fractalNoise" baseFrequency="0.075" numOctaves="3" seed="5" result="tn"/>
<feColorMatrix in="tn" type="matrix" values="1 0 0 0 0 1 0 0 0 0 1 0 0 0 0 0 0 0 0 1" result="tg"/>
<feComposite in="bl" in2="tg" operator="arithmetic" k1="0" k2="1" k3="0.45" k4="-0.225" result="sm"/>
<feComponentTransfer in="sm"><feFuncR type="table" tableValues="0 0 0 0 0.5 1 1 1 0.5"/><feFuncG type="table" tableValues="0 0 0.5 1 1 1 0.5 0 0"/><feFuncB type="table" tableValues="0.5 1 1 1 0.5 0 0 0 0"/><feFuncA type="linear" slope="0" intercept="1"/></feComponentTransfer>
</filter>
<g clip-path="url(#c2a)"><g filter="url(#f2a)">
<rect x="36.9" y="376.1" width="238.1" height="188.3" fill="#6b6b6b"/>
<rect x="51.9" y="391.1" width="208.0" height="21.0" rx="0" fill="#737373" filter="url(#soft3)"/>
<ellipse cx="53.9" cy="394.1" rx="6.0" ry="8.0" fill="#1a1a1a"/>
<ellipse cx="113.9" cy="401.1" rx="14.0" ry="8.0" fill="#8f8f8f" filter="url(#soft3)"/>
<ellipse cx="163.9" cy="400.1" rx="38.0" ry="9.0" fill="#b8b8b8" filter="url(#soft3)"/>
<ellipse cx="176.9" cy="398.1" rx="9.0" ry="4.0" fill="#dbdbdb"/>
<ellipse cx="151.9" cy="401.1" rx="8.0" ry="4.0" fill="#c2c2c2"/>
<ellipse cx="226.9" cy="401.1" rx="14.0" ry="8.0" fill="#8f8f8f" filter="url(#soft3)"/>
<ellipse cx="217.9" cy="401.1" rx="2.0" ry="6.0" fill="#b8b8b8"/>
<ellipse cx="234.9" cy="396.1" rx="3.0" ry="3.0" fill="#b2b2b2"/>
<ellipse cx="251.9" cy="401.1" rx="9.0" ry="10.0" fill="#666666" filter="url(#soft3)"/>
<rect x="51.9" y="411.1" width="208.0" height="8.0" rx="0" fill="#616161" filter="url(#soft3)"/>
<rect x="51.9" y="419.1" width="208.0" height="44.0" rx="0" fill="#4c4c4c" filter="url(#soft3)"/>
<ellipse cx="63.9" cy="441.1" rx="14.0" ry="22.0" fill="#262626" filter="url(#soft3)"/>
<ellipse cx="86.9" cy="436.1" rx="15.0" ry="15.0" fill="#3d3d3d" filter="url(#soft3)"/>
<ellipse cx="156.9" cy="439.1" rx="42.0" ry="20.0" fill="#6b6b6b" filter="url(#soft5)"/>
<ellipse cx="231.9" cy="441.1" rx="25.0" ry="20.0" fill="#3d3d3d" filter="url(#soft3)"/>
<ellipse cx="251.9" cy="446.1" rx="8.0" ry="15.0" fill="#292929"/>
<ellipse cx="123.9" cy="456.1" rx="8.0" ry="6.0" fill="#383838"/>
<rect x="51.9" y="463.1" width="208.0" height="33.0" rx="0" fill="#808080" filter="url(#soft3)"/>
<ellipse cx="129.9" cy="473.1" rx="6.0" ry="8.0" fill="#dbdbdb"/>
<ellipse cx="161.9" cy="471.1" rx="22.0" ry="6.0" fill="#949494" filter="url(#soft3)"/>
<ellipse cx="63.9" cy="483.1" rx="12.0" ry="4.0" fill="#a3a3a3"/>
<ellipse cx="88.9" cy="483.1" rx="8.0" ry="7.0" fill="#4c4c4c"/>
<ellipse cx="241.9" cy="479.1" rx="18.0" ry="14.0" fill="#575757" filter="url(#soft3)"/>
<rect x="51.9" y="494.1" width="208.0" height="12.0" rx="0" fill="#6b6b6b" filter="url(#soft3)"/>
<ellipse cx="241.9" cy="506.1" rx="18.0" ry="20.0" fill="#454545" filter="url(#soft3)"/>
<rect x="76.9" y="503.1" width="140.0" height="28.0" rx="0" fill="#8f8f8f" filter="url(#soft3)"/>
<ellipse cx="116.9" cy="516.1" rx="20.0" ry="9.0" fill="#a3a3a3" filter="url(#soft3)"/>
<ellipse cx="163.9" cy="522.1" rx="18.0" ry="6.0" fill="#c2c2c2" filter="url(#soft3)"/>
<ellipse cx="163.9" cy="522.1" rx="8.0" ry="4.0" fill="#d6d6d6"/>
<ellipse cx="191.9" cy="519.1" rx="12.0" ry="6.0" fill="#999999" filter="url(#soft3)"/>
<ellipse cx="66.9" cy="511.1" rx="15.0" ry="10.0" fill="#707070" filter="url(#soft3)"/>
<rect x="51.9" y="531.1" width="208.0" height="18.0" rx="0" fill="#424242" filter="url(#soft2)"/>
</g></g>
<rect x="24.30" y="391.10" width="27.60" height="158.30" fill="#000"/>
<path transform="translate(0.0,0)" d="M47.3,391.1 C47.3,405 38,414 36.4,421 L36,456 C38,468 48.8,480 48.8,497 C48.8,515 40,530 36,538 L35,549.4" fill="none" stroke="#d81cd8" stroke-width="2"/>
<rect x="212.4" y="540.8" width="41.1" height="6" fill="#0d0000"/>
<clipPath id="c2b"><rect x="376.60" y="391.10" width="208.10" height="158.30"/></clipPath>
<filter id="f2b" filterUnits="userSpaceOnUse" x="356.6" y="371.1" width="248.1" height="198.3" color-interpolation-filters="sRGB">
<feTurbulence type="fractalNoise" baseFrequency="0.15" numOctaves="2" seed="56" result="dn"/>
<feDisplacementMap in="SourceGraphic" in2="dn" scale="8" xChannelSelector="R" yChannelSelector="G" result="dsp"/>
<feGaussianBlur in="dsp" stdDeviation="1.6" result="bl"/>
<feTurbulence type="fractalNoise" baseFrequency="0.08" numOctaves="2" seed="6" result="tn"/>
<feColorMatrix in="tn" type="matrix" values="1 0 0 0 0 1 0 0 0 0 1 0 0 0 0 0 0 0 0 1" result="tg"/>
<feComposite in="bl" in2="tg" operator="arithmetic" k1="0" k2="1" k3="1" k4="-0.5" result="sm"/>
<feComponentTransfer in="sm"><feFuncR type="table" tableValues="0 0 0 0 0.5 1 1 1 0.5"/><feFuncG type="table" tableValues="0 0 0.5 1 1 1 0.5 0 0"/><feFuncB type="table" tableValues="0.5 1 1 1 0.5 0 0 0 0"/><feFuncA type="linear" slope="0" intercept="1"/></feComponentTransfer>
</filter>
<g clip-path="url(#c2b)"><g filter="url(#f2b)">
<rect x="361.6" y="376.1" width="238.1" height="188.3" fill="#666666"/>
<rect x="376.6" y="391.1" width="208.0" height="22.0" rx="0" fill="#707070"/>
<ellipse cx="381.6" cy="396.1" rx="10.0" ry="10.0" fill="#1f1f1f"/>
<rect x="376.6" y="413.1" width="208.0" height="10.0" rx="0" fill="#3d3d3d"/>
<ellipse cx="566.6" cy="425.1" rx="20.0" ry="6.0" fill="#1f1f1f"/>
<ellipse cx="494.6" cy="418.1" rx="10.0" ry="4.0" fill="#262626"/>
<rect x="376.6" y="391.1" width="8.0" height="158.0" rx="0" fill="#333333"/>
<rect x="574.6" y="411.1" width="10.0" height="138.0" rx="0" fill="#333333"/>
<rect x="376.6" y="531.1" width="208.0" height="18.0" rx="0" fill="#383838"/>
<ellipse cx="440.6" cy="452.1" rx="6.0" ry="6.0" fill="#262626"/>
<ellipse cx="467.6" cy="461.1" rx="7.0" ry="6.0" fill="#1f1f1f"/>
<ellipse cx="528.6" cy="449.1" rx="6.0" ry="10.0" fill="#242424"/>
<ellipse cx="418.6" cy="467.1" rx="5.0" ry="5.0" fill="#333333"/>
<ellipse cx="488.6" cy="439.1" rx="5.0" ry="4.0" fill="#404040"/>
<ellipse cx="406.6" cy="497.1" rx="6.0" ry="5.0" fill="#333333"/>
<ellipse cx="476.6" cy="491.1" rx="5.0" ry="5.0" fill="#383838"/>
<ellipse cx="446.6" cy="533.1" rx="6.0" ry="4.0" fill="#262626"/>
<ellipse cx="558.6" cy="518.1" rx="6.0" ry="6.0" fill="#333333"/>
<ellipse cx="396.6" cy="461.1" rx="5.0" ry="6.0" fill="#383838"/>
<ellipse cx="556.6" cy="461.1" rx="8.0" ry="8.0" fill="#333333"/>
<ellipse cx="436.6" cy="501.1" rx="6.0" ry="5.0" fill="#404040"/>
<ellipse cx="536.6" cy="531.1" rx="10.0" ry="5.0" fill="#333333"/>
<ellipse cx="501.6" cy="451.1" rx="5.0" ry="5.0" fill="#404040"/>
<ellipse cx="467.6" cy="405.1" rx="9.0" ry="7.2" fill="#9e9e9e"/>
<ellipse cx="485.6" cy="400.1" rx="5.4" ry="5.4" fill="#9e9e9e"/>
<ellipse cx="506.6" cy="403.1" rx="7.2" ry="7.2" fill="#9e9e9e"/>
<ellipse cx="525.6" cy="403.1" rx="5.4" ry="5.4" fill="#9e9e9e"/>
<ellipse cx="447.6" cy="397.1" rx="5.4" ry="5.4" fill="#868686"/>
<ellipse cx="558.6" cy="406.1" rx="5.4" ry="5.4" fill="#868686"/>
<ellipse cx="446.6" cy="468.1" rx="12.6" ry="12.6" fill="#9e9e9e"/>
<ellipse cx="462.6" cy="477.1" rx="9.0" ry="9.0" fill="#9e9e9e"/>
<ellipse cx="481.6" cy="477.1" rx="10.8" ry="9.0" fill="#9e9e9e"/>
<ellipse cx="488.6" cy="482.1" rx="7.2" ry="7.2" fill="#9e9e9e"/>
<ellipse cx="522.6" cy="482.1" rx="12.6" ry="10.8" fill="#9e9e9e"/>
<ellipse cx="544.6" cy="477.1" rx="9.0" ry="9.0" fill="#9e9e9e"/>
<ellipse cx="417.6" cy="485.1" rx="10.8" ry="10.8" fill="#9e9e9e"/>
<ellipse cx="516.6" cy="507.1" rx="12.6" ry="12.6" fill="#9e9e9e"/>
<ellipse cx="517.6" cy="521.1" rx="7.2" ry="7.2" fill="#9e9e9e"/>
<ellipse cx="405.6" cy="449.1" rx="9.0" ry="9.0" fill="#9e9e9e"/>
<ellipse cx="399.6" cy="443.1" rx="5.4" ry="5.4" fill="#9e9e9e"/>
<ellipse cx="388.6" cy="497.1" rx="5.4" ry="5.4" fill="#9e9e9e"/>
<ellipse cx="450.6" cy="521.1" rx="5.4" ry="5.4" fill="#9e9e9e"/>
<ellipse cx="479.6" cy="518.1" rx="7.2" ry="7.2" fill="#9e9e9e"/>
<ellipse cx="420.6" cy="512.1" rx="5.4" ry="5.4" fill="#9e9e9e"/>
<ellipse cx="561.6" cy="500.1" rx="5.4" ry="5.4" fill="#9e9e9e"/>
<ellipse cx="509.6" cy="452.1" rx="5.4" ry="5.4" fill="#9e9e9e"/>
<ellipse cx="524.6" cy="430.1" rx="5.4" ry="5.4" fill="#9e9e9e"/>
<ellipse cx="497.6" cy="491.1" rx="7.2" ry="7.2" fill="#9e9e9e"/>
<ellipse cx="387.6" cy="521.1" rx="5.4" ry="5.4" fill="#8a8a8a"/>
<ellipse cx="431.6" cy="421.1" rx="5.4" ry="5.4" fill="#808080"/>
<ellipse cx="536.6" cy="411.1" rx="5.4" ry="5.4" fill="#808080"/>
<ellipse cx="406.6" cy="426.1" rx="5.4" ry="5.4" fill="#808080"/>
<ellipse cx="551.6" cy="436.1" rx="5.4" ry="5.4" fill="#828282"/>
<ellipse cx="566.6" cy="486.1" rx="5.4" ry="5.4" fill="#808080"/>
<ellipse cx="431.6" cy="531.1" rx="5.4" ry="5.4" fill="#808080"/>
<ellipse cx="501.6" cy="533.1" rx="5.4" ry="5.4" fill="#808080"/>
<ellipse cx="396.6" cy="476.1" rx="5.4" ry="5.4" fill="#828282"/>
<ellipse cx="536.6" cy="496.1" rx="5.4" ry="5.4" fill="#828282"/>
<ellipse cx="467.6" cy="405.1" rx="5.0" ry="4.0" fill="#dbdbdb"/>
<ellipse cx="485.6" cy="400.1" rx="3.0" ry="3.0" fill="#bcbcbc"/>
<ellipse cx="506.6" cy="403.1" rx="4.0" ry="4.0" fill="#c1c1c1"/>
<ellipse cx="525.6" cy="403.1" rx="3.0" ry="3.0" fill="#bcbcbc"/>
<ellipse cx="447.6" cy="397.1" rx="3.0" ry="3.0" fill="#a6a6a6"/>
<ellipse cx="558.6" cy="406.1" rx="3.0" ry="3.0" fill="#a6a6a6"/>
<ellipse cx="446.6" cy="468.1" rx="7.0" ry="7.0" fill="#e4e4e4"/>
<ellipse cx="462.6" cy="477.1" rx="5.0" ry="5.0" fill="#e0e0e0"/>
<ellipse cx="481.6" cy="477.1" rx="6.0" ry="5.0" fill="#d4d4d4"/>
<ellipse cx="488.6" cy="482.1" rx="4.0" ry="4.0" fill="#cecece"/>
<ellipse cx="522.6" cy="482.1" rx="7.0" ry="6.0" fill="#e4e4e4"/>
<ellipse cx="544.6" cy="477.1" rx="5.0" ry="5.0" fill="#dbdbdb"/>
<ellipse cx="417.6" cy="485.1" rx="6.0" ry="6.0" fill="#dbdbdb"/>
<ellipse cx="516.6" cy="507.1" rx="7.0" ry="7.0" fill="#e4e4e4"/>
<ellipse cx="517.6" cy="521.1" rx="4.0" ry="4.0" fill="#cecece"/>
<ellipse cx="405.6" cy="449.1" rx="5.0" ry="5.0" fill="#c1c1c1"/>
<ellipse cx="399.6" cy="443.1" rx="3.0" ry="3.0" fill="#bcbcbc"/>
<ellipse cx="388.6" cy="497.1" rx="3.0" ry="3.0" fill="#bcbcbc"/>
<ellipse cx="450.6" cy="521.1" rx="3.0" ry="3.0" fill="#c1c1c1"/>
<ellipse cx="479.6" cy="518.1" rx="4.0" ry="4.0" fill="#c1c1c1"/>
<ellipse cx="420.6" cy="512.1" rx="3.0" ry="3.0" fill="#bcbcbc"/>
<ellipse cx="561.6" cy="500.1" rx="3.0" ry="3.0" fill="#bcbcbc"/>
<ellipse cx="509.6" cy="452.1" rx="3.0" ry="3.0" fill="#bcbcbc"/>
<ellipse cx="524.6" cy="430.1" rx="3.0" ry="3.0" fill="#bcbcbc"/>
<ellipse cx="497.6" cy="491.1" rx="4.0" ry="4.0" fill="#c5c5c5"/>
<ellipse cx="387.6" cy="521.1" rx="3.0" ry="3.0" fill="#adadad"/>
<ellipse cx="431.6" cy="421.1" rx="3.0" ry="3.0" fill="#999999"/>
<ellipse cx="536.6" cy="411.1" rx="3.0" ry="3.0" fill="#999999"/>
<ellipse cx="406.6" cy="426.1" rx="3.0" ry="3.0" fill="#999999"/>
<ellipse cx="551.6" cy="436.1" rx="3.0" ry="3.0" fill="#9e9e9e"/>
<ellipse cx="566.6" cy="486.1" rx="3.0" ry="3.0" fill="#999999"/>
<ellipse cx="431.6" cy="531.1" rx="3.0" ry="3.0" fill="#999999"/>
<ellipse cx="501.6" cy="533.1" rx="3.0" ry="3.0" fill="#999999"/>
<ellipse cx="396.6" cy="476.1" rx="3.0" ry="3.0" fill="#9e9e9e"/>
<ellipse cx="536.6" cy="496.1" rx="3.0" ry="3.0" fill="#9e9e9e"/>
</g></g>
<rect x="349.00" y="391.10" width="27.60" height="158.30" fill="#000"/>
<path transform="translate(324.7,0)" d="M47.3,391.1 C47.3,405 38,414 36.4,421 L36,456 C38,468 48.8,480 48.8,497 C48.8,515 40,530 36,538 L35,549.4" fill="none" stroke="#d81cd8" stroke-width="2"/>
<rect x="537.1" y="540.8" width="41.1" height="6" fill="#0d0000"/>
<line x1="33.4" x2="668.6" y1="418.1" y2="418.1" stroke="#9a9a9a" stroke-width="1.5" stroke-dasharray="3.5 1.9"/>
<line x1="33.4" x2="668.6" y1="537.4" y2="537.4" stroke="#9a9a9a" stroke-width="1.5" stroke-dasharray="3.5 1.9"/>
<text transform="translate(18.4,478.8) rotate(-90)" font-size="22.5" text-anchor="middle">Topo III</text>
<path d="M259.6,390.5 H342.6" stroke="#000" stroke-width="1.1" fill="none"/>
<line x1="259.6" x2="259.6" y1="390.5" y2="387.3" stroke="#000" stroke-width="0.9"/>
<line x1="271.5" x2="271.5" y1="390.5" y2="387.3" stroke="#000" stroke-width="0.9"/>
<line x1="283.5" x2="283.5" y1="390.5" y2="387.3" stroke="#000" stroke-width="0.9"/>
<line x1="295.4" x2="295.4" y1="390.5" y2="387.3" stroke="#000" stroke-width="0.9"/>
<line x1="307.3" x2="307.3" y1="390.5" y2="387.3" stroke="#000" stroke-width="0.9"/>
<line x1="319.2" x2="319.2" y1="390.5" y2="387.3" stroke="#000" stroke-width="0.9"/>
<line x1="331.2" x2="331.2" y1="390.5" y2="387.3" stroke="#000" stroke-width="0.9"/>
<line x1="343.1" x2="343.1" y1="390.5" y2="387.3" stroke="#000" stroke-width="0.9"/>
<text x="259.6" y="385.6" font-size="12" text-anchor="middle">0.8</text>
<text x="283.5" y="385.6" font-size="12" text-anchor="middle">1</text>
<text x="307.3" y="385.6" font-size="12" text-anchor="middle">1.2</text>
<text x="331.2" y="385.6" font-size="12" text-anchor="middle">1.4</text>
<path d="M584.3,390.5 H667.8" stroke="#000" stroke-width="1.1" fill="none"/>
<line x1="584.3" x2="584.3" y1="390.5" y2="387.3" stroke="#000" stroke-width="0.9"/>
<line x1="601.0" x2="601.0" y1="390.5" y2="387.3" stroke="#000" stroke-width="0.9"/>
<line x1="617.7" x2="617.7" y1="390.5" y2="387.3" stroke="#000" stroke-width="0.9"/>
<line x1="634.4" x2="634.4" y1="390.5" y2="387.3" stroke="#000" stroke-width="0.9"/>
<line x1="651.1" x2="651.1" y1="390.5" y2="387.3" stroke="#000" stroke-width="0.9"/>
<line x1="667.8" x2="667.8" y1="390.5" y2="387.3" stroke="#000" stroke-width="0.9"/>
<text x="584.3" y="385.5" font-size="12" text-anchor="middle">0</text>
<text x="617.7" y="385.5" font-size="12" text-anchor="middle">0.2</text>
<text x="651.1" y="385.5" font-size="12" text-anchor="middle">0.4</text>
<clipPath id="c3a"><rect x="51.90" y="566.00" width="208.10" height="157.80"/></clipPath>
<filter id="f3a" filterUnits="userSpaceOnUse" x="31.9" y="546.0" width="248.1" height="197.8" color-interpolation-filters="sRGB">
<feTurbulence type="fractalNoise" baseFrequency="0.1" numOctaves="2" seed="57" result="dn"/>
<feDisplacementMap in="SourceGraphic" in2="dn" scale="5" xChannelSelector="R" yChannelSelector="G" result="dsp"/>
<feGaussianBlur in="dsp" stdDeviation="2.2" result="bl"/>
<feTurbulence type="fractalNoise" baseFrequency="0.075" numOctaves="3" seed="7" result="tn"/>
<feColorMatrix in="tn" type="matrix" values="1 0 0 0 0 1 0 0 0 0 1 0 0 0 0 0 0 0 0 1" result="tg"/>
<feComposite in="bl" in2="tg" operator="arithmetic" k1="0" k2="1" k3="0.45" k4="-0.225" result="sm"/>
<feComponentTransfer in="sm"><feFuncR type="table" tableValues="0 0 0 0 0.5 1 1 1 0.5"/><feFuncG type="table" tableValues="0 0 0.5 1 1 1 0.5 0 0"/><feFuncB type="table" tableValues="0.5 1 1 1 0.5 0 0 0 0"/><feFuncA type="linear" slope="0" intercept="1"/></feComponentTransfer>
</filter>
<g clip-path="url(#c3a)"><g filter="url(#f3a)">
<rect x="36.9" y="551.0" width="238.1" height="187.8" fill="#6b6b6b"/>
<rect x="51.9" y="566.0" width="208.0" height="20.0" rx="0" fill="#707070" filter="url(#soft3)"/>
<ellipse cx="131.9" cy="576.0" rx="28.0" ry="10.0" fill="#8f8f8f" filter="url(#soft5)"/>
<ellipse cx="173.9" cy="574.0" rx="12.0" ry="8.0" fill="#adadad" filter="url(#soft3)"/>
<ellipse cx="178.9" cy="572.0" rx="6.0" ry="4.0" fill="#e6e6e6"/>
<ellipse cx="149.9" cy="571.0" rx="5.0" ry="4.0" fill="#b8b8b8"/>
<ellipse cx="146.9" cy="580.0" rx="3.0" ry="2.0" fill="#b8b8b8"/>
<ellipse cx="241.9" cy="576.0" rx="18.0" ry="10.0" fill="#595959" filter="url(#soft3)"/>
<rect x="51.9" y="586.0" width="208.0" height="8.0" rx="0" fill="#666666" filter="url(#soft3)"/>
<ellipse cx="83.9" cy="614.0" rx="30.0" ry="24.0" fill="#383838" filter="url(#soft5)"/>
<ellipse cx="76.9" cy="598.0" rx="10.0" ry="4.0" fill="#262626"/>
<ellipse cx="81.9" cy="616.0" rx="6.0" ry="5.0" fill="#262626"/>
<ellipse cx="121.9" cy="611.0" rx="10.0" ry="20.0" fill="#545454" filter="url(#soft3)"/>
<ellipse cx="171.9" cy="611.0" rx="35.0" ry="22.0" fill="#5c5c5c" filter="url(#soft5)"/>
<ellipse cx="136.9" cy="613.0" rx="6.0" ry="8.0" fill="#404040"/>
<ellipse cx="236.9" cy="611.0" rx="25.0" ry="25.0" fill="#404040" filter="url(#soft5)"/>
<ellipse cx="256.9" cy="611.0" rx="4.0" ry="15.0" fill="#262626"/>
<rect x="51.9" y="628.0" width="208.0" height="12.0" rx="0" fill="#6b6b6b" filter="url(#soft3)"/>
<rect x="81.9" y="638.0" width="178.0" height="62.0" rx="0" fill="#8a8a8a" filter="url(#soft5)"/>
<ellipse cx="63.9" cy="671.0" rx="15.0" ry="32.0" fill="#4c4c4c" filter="url(#soft5)"/>
<ellipse cx="96.9" cy="648.0" rx="3.0" ry="3.0" fill="#bfbfbf"/>
<ellipse cx="91.9" cy="642.0" rx="3.0" ry="3.0" fill="#b8b8b8"/>
<ellipse cx="169.9" cy="648.0" rx="14.0" ry="8.0" fill="#c2c2c2" filter="url(#soft3)"/>
<ellipse cx="175.9" cy="647.0" rx="5.0" ry="4.0" fill="#e6e6e6"/>
<ellipse cx="148.9" cy="643.0" rx="8.0" ry="3.0" fill="#b8b8b8"/>
<ellipse cx="236.9" cy="650.0" rx="5.0" ry="7.0" fill="#b8b8b8"/>
<ellipse cx="201.9" cy="666.0" rx="22.0" ry="10.0" fill="#707070" filter="url(#soft3)"/>
<ellipse cx="139.9" cy="670.0" rx="6.0" ry="2.0" fill="#b2b2b2"/>
<ellipse cx="191.9" cy="663.0" rx="3.0" ry="3.0" fill="#b8b8b8"/>
<ellipse cx="131.9" cy="689.0" rx="14.0" ry="10.0" fill="#bdbdbd" filter="url(#soft3)"/>
<ellipse cx="136.9" cy="691.0" rx="4.0" ry="4.0" fill="#e6e6e6"/>
<ellipse cx="219.9" cy="679.0" rx="4.0" ry="3.0" fill="#bdbdbd"/>
<ellipse cx="243.9" cy="679.0" rx="4.0" ry="3.0" fill="#c2c2c2"/>
<ellipse cx="217.9" cy="697.0" rx="4.0" ry="3.0" fill="#c7c7c7"/>
<rect x="51.9" y="706.0" width="208.0" height="20.0" rx="0" fill="#3d3d3d" filter="url(#soft2)"/>
<ellipse cx="171.9" cy="716.0" rx="10.0" ry="5.0" fill="#262626"/>
<ellipse cx="236.9" cy="716.0" rx="15.0" ry="5.0" fill="#262626"/>
<rect x="51.9" y="566.0" width="4.0" height="15.0" rx="0" fill="#dbdbdb"/>
<ellipse cx="53.9" cy="574.0" rx="2.0" ry="3.0" fill="#f2f2f2"/>
<rect x="51.9" y="581.0" width="5.0" height="65.0" rx="0" fill="#0f0f0f"/>
<rect x="256.9" y="644.0" width="3.0" height="30.0" rx="0" fill="#404040"/>
<rect x="256.9" y="681.0" width="3.0" height="25.0" rx="0" fill="#d6d6d6"/>
</g></g>
<rect x="24.30" y="566.00" width="27.60" height="157.80" fill="#000"/>
<path transform="translate(0.0,0)" d="M47,566 C46,580 38,592 36,603 L35.5,616 C37,640 49.5,655 49.5,672 C49.5,690 40,705 36,714.5 L35,723.8" fill="none" stroke="#22c022" stroke-width="2"/>
<rect x="212.4" y="715.2" width="41.1" height="6" fill="#0d0000"/>
<clipPath id="c3b"><rect x="376.60" y="566.00" width="208.10" height="157.80"/></clipPath>
<filter id="f3b" filterUnits="userSpaceOnUse" x="356.6" y="546.0" width="248.1" height="197.8" color-interpolation-filters="sRGB">
<feTurbulence type="fractalNoise" baseFrequency="0.15" numOctaves="2" seed="58" result="dn"/>
<feDisplacementMap in="SourceGraphic" in2="dn" scale="8" xChannelSelector="R" yChannelSelector="G" result="dsp"/>
<feGaussianBlur in="dsp" stdDeviation="1.6" result="bl"/>
<feTurbulence type="fractalNoise" baseFrequency="0.08" numOctaves="2" seed="8" result="tn"/>
<feColorMatrix in="tn" type="matrix" values="1 0 0 0 0 1 0 0 0 0 1 0 0 0 0 0 0 0 0 1" result="tg"/>
<feComposite in="bl" in2="tg" operator="arithmetic" k1="0" k2="1" k3="1" k4="-0.5" result="sm"/>
<feComponentTransfer in="sm"><feFuncR type="table" tableValues="0 0 0 0 0.5 1 1 1 0.5"/><feFuncG type="table" tableValues="0 0 0.5 1 1 1 0.5 0 0"/><feFuncB type="table" tableValues="0.5 1 1 1 0.5 0 0 0 0"/><feFuncA type="linear" slope="0" intercept="1"/></feComponentTransfer>
</filter>
<g clip-path="url(#c3b)"><g filter="url(#f3b)">
<rect x="361.6" y="551.0" width="238.1" height="187.8" fill="#696969"/>
<rect x="376.6" y="566.0" width="6.0" height="158.0" rx="0" fill="#2e2e2e"/>
<rect x="578.6" y="566.0" width="6.0" height="158.0" rx="0" fill="#333333"/>
<ellipse cx="381.6" cy="571.0" rx="12.0" ry="10.0" fill="#1f1f1f"/>
<rect x="376.6" y="711.0" width="208.0" height="13.0" rx="0" fill="#383838"/>
<ellipse cx="476.6" cy="621.0" rx="6.0" ry="6.0" fill="#262626"/>
<ellipse cx="504.6" cy="631.0" rx="6.0" ry="6.0" fill="#262626"/>
<ellipse cx="422.6" cy="666.0" rx="6.0" ry="6.0" fill="#262626"/>
<ellipse cx="464.6" cy="696.0" rx="7.0" ry="6.0" fill="#1a1a1a"/>
<ellipse cx="388.6" cy="694.0" rx="6.0" ry="6.0" fill="#262626"/>
<ellipse cx="558.6" cy="630.0" rx="6.0" ry="6.0" fill="#262626"/>
<ellipse cx="446.6" cy="593.0" rx="6.0" ry="5.0" fill="#262626"/>
<ellipse cx="570.6" cy="612.0" rx="6.0" ry="6.0" fill="#262626"/>
<ellipse cx="436.6" cy="586.0" rx="5.0" ry="4.0" fill="#333333"/>
<ellipse cx="526.6" cy="636.0" rx="5.0" ry="5.0" fill="#333333"/>
<ellipse cx="486.6" cy="706.0" rx="6.0" ry="5.0" fill="#333333"/>
<ellipse cx="396.6" cy="616.0" rx="5.0" ry="5.0" fill="#333333"/>
<ellipse cx="541.6" cy="716.0" rx="10.0" ry="5.0" fill="#262626"/>
<ellipse cx="436.6" cy="716.0" rx="10.0" ry="5.0" fill="#262626"/>
<ellipse cx="531.6" cy="676.0" rx="5.0" ry="5.0" fill="#333333"/>
<ellipse cx="406.6" cy="576.0" rx="6.0" ry="5.0" fill="#333333"/>
<ellipse cx="552.6" cy="572.0" rx="10.8" ry="9.0" fill="#9e9e9e"/>
<ellipse cx="519.6" cy="574.0" rx="7.2" ry="7.2" fill="#9e9e9e"/>
<ellipse cx="467.6" cy="575.0" rx="5.4" ry="5.4" fill="#8c8c8c"/>
<ellipse cx="416.6" cy="604.0" rx="10.8" ry="10.8" fill="#9e9e9e"/>
<ellipse cx="551.6" cy="612.0" rx="10.8" ry="10.8" fill="#9e9e9e"/>
<ellipse cx="496.6" cy="615.0" rx="7.2" ry="7.2" fill="#9e9e9e"/>
<ellipse cx="520.6" cy="619.0" rx="9.0" ry="9.0" fill="#9e9e9e"/>
<ellipse cx="467.6" cy="612.0" rx="5.4" ry="5.4" fill="#9e9e9e"/>
<ellipse cx="405.6" cy="637.0" rx="7.2" ry="7.2" fill="#9e9e9e"/>
<ellipse cx="440.6" cy="639.0" rx="7.2" ry="7.2" fill="#9e9e9e"/>
<ellipse cx="455.6" cy="648.0" rx="12.6" ry="12.6" fill="#9e9e9e"/>
<ellipse cx="381.6" cy="648.0" rx="5.4" ry="5.4" fill="#9e9e9e"/>
<ellipse cx="405.6" cy="654.0" rx="9.0" ry="9.0" fill="#9e9e9e"/>
<ellipse cx="514.6" cy="648.0" rx="14.4" ry="14.4" fill="#9e9e9e"/>
<ellipse cx="517.6" cy="657.0" rx="10.8" ry="10.8" fill="#9e9e9e"/>
<ellipse cx="539.6" cy="654.0" rx="9.0" ry="9.0" fill="#9e9e9e"/>
<ellipse cx="552.6" cy="645.0" rx="5.4" ry="5.4" fill="#9e9e9e"/>
<ellipse cx="566.6" cy="642.0" rx="5.4" ry="5.4" fill="#9e9e9e"/>
<ellipse cx="476.6" cy="657.0" rx="9.0" ry="9.0" fill="#9e9e9e"/>
<ellipse cx="390.6" cy="669.0" rx="10.8" ry="10.8" fill="#9e9e9e"/>
<ellipse cx="507.6" cy="663.0" rx="7.2" ry="7.2" fill="#9e9e9e"/>
<ellipse cx="561.6" cy="666.0" rx="5.4" ry="5.4" fill="#9e9e9e"/>
<ellipse cx="428.6" cy="684.0" rx="10.8" ry="10.8" fill="#9e9e9e"/>
<ellipse cx="441.6" cy="693.0" rx="9.0" ry="9.0" fill="#9e9e9e"/>
<ellipse cx="476.6" cy="681.0" rx="10.8" ry="10.8" fill="#9e9e9e"/>
<ellipse cx="499.6" cy="687.0" rx="10.8" ry="10.8" fill="#9e9e9e"/>
<ellipse cx="551.6" cy="686.0" rx="16.2" ry="10.8" fill="#9e9e9e"/>
<ellipse cx="545.6" cy="701.0" rx="9.0" ry="9.0" fill="#9e9e9e"/>
<ellipse cx="455.6" cy="675.0" rx="7.2" ry="7.2" fill="#9e9e9e"/>
<ellipse cx="416.6" cy="703.0" rx="5.4" ry="5.4" fill="#9e9e9e"/>
<ellipse cx="516.6" cy="699.0" rx="5.4" ry="5.4" fill="#9e9e9e"/>
<ellipse cx="566.6" cy="696.0" rx="5.4" ry="5.4" fill="#9e9e9e"/>
<ellipse cx="436.6" cy="606.0" rx="5.4" ry="5.4" fill="#828282"/>
<ellipse cx="486.6" cy="586.0" rx="5.4" ry="5.4" fill="#828282"/>
<ellipse cx="536.6" cy="591.0" rx="5.4" ry="5.4" fill="#828282"/>
<ellipse cx="396.6" cy="586.0" rx="5.4" ry="5.4" fill="#808080"/>
<ellipse cx="451.6" cy="666.0" rx="5.4" ry="5.4" fill="#828282"/>
<ellipse cx="491.6" cy="641.0" rx="5.4" ry="5.4" fill="#828282"/>
<ellipse cx="566.6" cy="716.0" rx="5.4" ry="5.4" fill="#808080"/>
<ellipse cx="406.6" cy="716.0" rx="5.4" ry="5.4" fill="#808080"/>
<ellipse cx="526.6" cy="711.0" rx="5.4" ry="5.4" fill="#828282"/>
<ellipse cx="552.6" cy="572.0" rx="6.0" ry="5.0" fill="#e4e4e4"/>
<ellipse cx="519.6" cy="574.0" rx="4.0" ry="4.0" fill="#cecece"/>
<ellipse cx="467.6" cy="575.0" rx="3.0" ry="3.0" fill="#b2b2b2"/>
<ellipse cx="416.6" cy="604.0" rx="6.0" ry="6.0" fill="#d7d7d7"/>
<ellipse cx="551.6" cy="612.0" rx="6.0" ry="6.0" fill="#e4e4e4"/>
<ellipse cx="496.6" cy="615.0" rx="4.0" ry="4.0" fill="#cecece"/>
<ellipse cx="520.6" cy="619.0" rx="5.0" ry="5.0" fill="#d7d7d7"/>
<ellipse cx="467.6" cy="612.0" rx="3.0" ry="3.0" fill="#bcbcbc"/>
<ellipse cx="405.6" cy="637.0" rx="4.0" ry="4.0" fill="#cecece"/>
<ellipse cx="440.6" cy="639.0" rx="4.0" ry="4.0" fill="#cecece"/>
<ellipse cx="455.6" cy="648.0" rx="7.0" ry="7.0" fill="#e4e4e4"/>
<ellipse cx="381.6" cy="648.0" rx="3.0" ry="3.0" fill="#cecece"/>
<ellipse cx="405.6" cy="654.0" rx="5.0" ry="5.0" fill="#d4d4d4"/>
<ellipse cx="514.6" cy="648.0" rx="8.0" ry="8.0" fill="#e4e4e4"/>
<ellipse cx="517.6" cy="657.0" rx="6.0" ry="6.0" fill="#e0e0e0"/>
<ellipse cx="539.6" cy="654.0" rx="5.0" ry="5.0" fill="#d7d7d7"/>
<ellipse cx="552.6" cy="645.0" rx="3.0" ry="3.0" fill="#c5c5c5"/>
<ellipse cx="566.6" cy="642.0" rx="3.0" ry="3.0" fill="#c5c5c5"/>
<ellipse cx="476.6" cy="657.0" rx="5.0" ry="5.0" fill="#c5c5c5"/>
<ellipse cx="390.6" cy="669.0" rx="6.0" ry="6.0" fill="#d4d4d4"/>
<ellipse cx="507.6" cy="663.0" rx="4.0" ry="4.0" fill="#c5c5c5"/>
<ellipse cx="561.6" cy="666.0" rx="3.0" ry="3.0" fill="#c5c5c5"/>
<ellipse cx="428.6" cy="684.0" rx="6.0" ry="6.0" fill="#d7d7d7"/>
<ellipse cx="441.6" cy="693.0" rx="5.0" ry="5.0" fill="#d7d7d7"/>
<ellipse cx="476.6" cy="681.0" rx="6.0" ry="6.0" fill="#d7d7d7"/>
<ellipse cx="499.6" cy="687.0" rx="6.0" ry="6.0" fill="#dbdbdb"/>
<ellipse cx="551.6" cy="686.0" rx="9.0" ry="6.0" fill="#e4e4e4"/>
<ellipse cx="545.6" cy="701.0" rx="5.0" ry="5.0" fill="#dbdbdb"/>
<ellipse cx="455.6" cy="675.0" rx="4.0" ry="4.0" fill="#c5c5c5"/>
<ellipse cx="416.6" cy="703.0" rx="3.0" ry="3.0" fill="#c5c5c5"/>
<ellipse cx="516.6" cy="699.0" rx="3.0" ry="3.0" fill="#c5c5c5"/>
<ellipse cx="566.6" cy="696.0" rx="3.0" ry="3.0" fill="#c5c5c5"/>
<ellipse cx="436.6" cy="606.0" rx="3.0" ry="3.0" fill="#9e9e9e"/>
<ellipse cx="486.6" cy="586.0" rx="3.0" ry="3.0" fill="#9e9e9e"/>
<ellipse cx="536.6" cy="591.0" rx="3.0" ry="3.0" fill="#9e9e9e"/>
<ellipse cx="396.6" cy="586.0" rx="3.0" ry="3.0" fill="#999999"/>
<ellipse cx="451.6" cy="666.0" rx="3.0" ry="3.0" fill="#9e9e9e"/>
<ellipse cx="491.6" cy="641.0" rx="3.0" ry="3.0" fill="#9e9e9e"/>
<ellipse cx="566.6" cy="716.0" rx="3.0" ry="3.0" fill="#999999"/>
<ellipse cx="406.6" cy="716.0" rx="3.0" ry="3.0" fill="#999999"/>
<ellipse cx="526.6" cy="711.0" rx="3.0" ry="3.0" fill="#9e9e9e"/>
</g></g>
<rect x="349.00" y="566.00" width="27.60" height="157.80" fill="#000"/>
<path transform="translate(324.7,0)" d="M47,566 C46,580 38,592 36,603 L35.5,616 C37,640 49.5,655 49.5,672 C49.5,690 40,705 36,714.5 L35,723.8" fill="none" stroke="#22c022" stroke-width="2"/>
<rect x="537.1" y="715.2" width="41.1" height="6" fill="#0d0000"/>
<line x1="33.4" x2="668.6" y1="591.2" y2="591.2" stroke="#9a9a9a" stroke-width="1.5" stroke-dasharray="3.5 1.9"/>
<line x1="33.4" x2="668.6" y1="711.0" y2="711.0" stroke="#9a9a9a" stroke-width="1.5" stroke-dasharray="3.5 1.9"/>
<text transform="translate(18.4,667.2) rotate(-90)" font-size="22.5" text-anchor="middle">Topo IV</text>
<path d="M259.6,565.4 H342.6" stroke="#000" stroke-width="1.1" fill="none"/>
<line x1="259.6" x2="259.6" y1="565.4" y2="562.2" stroke="#000" stroke-width="0.9"/>
<line x1="271.5" x2="271.5" y1="565.4" y2="562.2" stroke="#000" stroke-width="0.9"/>
<line x1="283.5" x2="283.5" y1="565.4" y2="562.2" stroke="#000" stroke-width="0.9"/>
<line x1="295.4" x2="295.4" y1="565.4" y2="562.2" stroke="#000" stroke-width="0.9"/>
<line x1="307.3" x2="307.3" y1="565.4" y2="562.2" stroke="#000" stroke-width="0.9"/>
<line x1="319.2" x2="319.2" y1="565.4" y2="562.2" stroke="#000" stroke-width="0.9"/>
<line x1="331.2" x2="331.2" y1="565.4" y2="562.2" stroke="#000" stroke-width="0.9"/>
<line x1="343.1" x2="343.1" y1="565.4" y2="562.2" stroke="#000" stroke-width="0.9"/>
<text x="259.6" y="560.5" font-size="12" text-anchor="middle">0.8</text>
<text x="283.5" y="560.5" font-size="12" text-anchor="middle">1</text>
<text x="307.3" y="560.5" font-size="12" text-anchor="middle">1.2</text>
<text x="331.2" y="560.5" font-size="12" text-anchor="middle">1.4</text>
<path d="M584.3,565.4 H667.8" stroke="#000" stroke-width="1.1" fill="none"/>
<line x1="584.3" x2="584.3" y1="565.4" y2="562.2" stroke="#000" stroke-width="0.9"/>
<line x1="601.0" x2="601.0" y1="565.4" y2="562.2" stroke="#000" stroke-width="0.9"/>
<line x1="617.7" x2="617.7" y1="565.4" y2="562.2" stroke="#000" stroke-width="0.9"/>
<line x1="634.4" x2="634.4" y1="565.4" y2="562.2" stroke="#000" stroke-width="0.9"/>
<line x1="651.1" x2="651.1" y1="565.4" y2="562.2" stroke="#000" stroke-width="0.9"/>
<line x1="667.8" x2="667.8" y1="565.4" y2="562.2" stroke="#000" stroke-width="0.9"/>
<text x="584.3" y="560.4" font-size="12" text-anchor="middle">0</text>
<text x="617.7" y="560.4" font-size="12" text-anchor="middle">0.2</text>
<text x="651.1" y="560.4" font-size="12" text-anchor="middle">0.4</text>
<clipPath id="c4a"><rect x="51.90" y="742.30" width="208.10" height="157.80"/></clipPath>
<filter id="f4a" filterUnits="userSpaceOnUse" x="31.9" y="722.3" width="248.1" height="197.8" color-interpolation-filters="sRGB">
<feTurbulence type="fractalNoise" baseFrequency="0.1" numOctaves="2" seed="59" result="dn"/>
<feDisplacementMap in="SourceGraphic" in2="dn" scale="5" xChannelSelector="R" yChannelSelector="G" result="dsp"/>
<feGaussianBlur in="dsp" stdDeviation="2.2" result="bl"/>
<feTurbulence type="fractalNoise" baseFrequency="0.075" numOctaves="3" seed="9" result="tn"/>
<feColorMatrix in="tn" type="matrix" values="1 0 0 0 0 1 0 0 0 0 1 0 0 0 0 0 0 0 0 1" result="tg"/>
<feComposite in="bl" in2="tg" operator="arithmetic" k1="0" k2="1" k3="0.45" k4="-0.225" result="sm"/>
<feComponentTransfer in="sm"><feFuncR type="table" tableValues="0 0 0 0 0.5 1 1 1 0.5"/><feFuncG type="table" tableValues="0 0 0.5 1 1 1 0.5 0 0"/><feFuncB type="table" tableValues="0.5 1 1 1 0.5 0 0 0 0"/><feFuncA type="linear" slope="0" intercept="1"/></feComponentTransfer>
</filter>
<g clip-path="url(#c4a)"><g filter="url(#f4a)">
<rect x="36.9" y="727.3" width="238.1" height="187.8" fill="#6b6b6b"/>
<rect x="51.9" y="742.3" width="208.0" height="20.0" rx="0" fill="#616161" filter="url(#soft3)"/>
<ellipse cx="55.9" cy="762.3" rx="5.0" ry="25.0" fill="#333333" filter="url(#soft3)"/>
<ellipse cx="101.9" cy="752.3" rx="10.0" ry="8.0" fill="#454545" filter="url(#soft3)"/>
<ellipse cx="166.9" cy="749.3" rx="14.0" ry="5.0" fill="#474747" filter="url(#soft3)"/>
<ellipse cx="200.9" cy="757.3" rx="9.0" ry="6.0" fill="#474747" filter="url(#soft3)"/>
<ellipse cx="241.9" cy="760.3" rx="20.0" ry="15.0" fill="#383838" filter="url(#soft5)"/>
<ellipse cx="104.9" cy="747.3" rx="2.0" ry="3.0" fill="#b2b2b2"/>
<ellipse cx="192.9" cy="747.3" rx="3.0" ry="3.0" fill="#9e9e9e"/>
<ellipse cx="61.9" cy="770.3" rx="15.0" ry="10.0" fill="#333333" filter="url(#soft3)"/>
<ellipse cx="231.9" cy="770.3" rx="30.0" ry="8.0" fill="#3d3d3d" filter="url(#soft3)"/>
<ellipse cx="146.9" cy="772.3" rx="45.0" ry="6.0" fill="#616161" filter="url(#soft3)"/>
<rect x="61.9" y="777.3" width="190.0" height="38.0" rx="0" fill="#7a7a7a" filter="url(#soft5)"/>
<ellipse cx="57.9" cy="797.3" rx="6.0" ry="18.0" fill="#424242" filter="url(#soft3)"/>
<ellipse cx="154.9" cy="804.3" rx="20.0" ry="8.0" fill="#8c8c8c" filter="url(#soft3)"/>
<ellipse cx="111.9" cy="792.3" rx="20.0" ry="10.0" fill="#878787" filter="url(#soft3)"/>
<rect x="51.9" y="814.3" width="208.0" height="22.0" rx="0" fill="#6b6b6b" filter="url(#soft3)"/>
<ellipse cx="81.9" cy="819.3" rx="9.0" ry="7.0" fill="#4c4c4c" filter="url(#soft3)"/>
<ellipse cx="209.9" cy="824.3" rx="12.0" ry="10.0" fill="#404040" filter="url(#soft3)"/>
<ellipse cx="251.9" cy="812.3" rx="8.0" ry="12.0" fill="#454545" filter="url(#soft3)"/>
<rect x="56.9" y="837.3" width="200.0" height="30.0" rx="0" fill="#7d7d7d" filter="url(#soft5)"/>
<ellipse cx="151.9" cy="842.3" rx="20.0" ry="8.0" fill="#8c8c8c" filter="url(#soft3)"/>
<ellipse cx="233.9" cy="854.3" rx="6.0" ry="5.0" fill="#9e9e9e"/>
<ellipse cx="100.9" cy="860.3" rx="6.0" ry="5.0" fill="#999999"/>
<ellipse cx="91.9" cy="879.3" rx="45.0" ry="9.0" fill="#383838" filter="url(#soft3)"/>
<ellipse cx="156.9" cy="879.3" rx="20.0" ry="8.0" fill="#525252" filter="url(#soft3)"/>
<ellipse cx="221.9" cy="879.3" rx="40.0" ry="9.0" fill="#333333" filter="url(#soft3)"/>
<ellipse cx="191.9" cy="882.3" rx="10.0" ry="5.0" fill="#212121"/>
<ellipse cx="246.9" cy="879.3" rx="13.0" ry="7.0" fill="#212121"/>
<ellipse cx="101.9" cy="895.3" rx="50.0" ry="6.0" fill="#616161" filter="url(#soft3)"/>
<ellipse cx="221.9" cy="895.3" rx="40.0" ry="6.0" fill="#3d3d3d" filter="url(#soft3)"/>
<ellipse cx="60.9" cy="894.3" rx="4.0" ry="4.0" fill="#a8a8a8"/>
</g></g>
<rect x="24.30" y="742.30" width="27.60" height="157.80" fill="#000"/>
<path transform="translate(0.0,0)" d="M39.7,742.3 C37,750 32.1,758 32.1,768 C32.1,790 47.3,805 47.3,824 C47.3,850 31,870 30.9,884.5" fill="none" stroke="#e00a0a" stroke-width="2"/>
<rect x="212.4" y="891.5" width="41.1" height="6" fill="#0d0000"/>
<clipPath id="c4b"><rect x="376.60" y="742.30" width="208.10" height="157.80"/></clipPath>
<filter id="f4b" filterUnits="userSpaceOnUse" x="356.6" y="722.3" width="248.1" height="197.8" color-interpolation-filters="sRGB">
<feTurbulence type="fractalNoise" baseFrequency="0.15" numOctaves="2" seed="60" result="dn"/>
<feDisplacementMap in="SourceGraphic" in2="dn" scale="8" xChannelSelector="R" yChannelSelector="G" result="dsp"/>
<feGaussianBlur in="dsp" stdDeviation="1.6" result="bl"/>
<feTurbulence type="fractalNoise" baseFrequency="0.08" numOctaves="2" seed="10" result="tn"/>
<feColorMatrix in="tn" type="matrix" values="1 0 0 0 0 1 0 0 0 0 1 0 0 0 0 0 0 0 0 1" result="tg"/>
<feComposite in="bl" in2="tg" operator="arithmetic" k1="0" k2="1" k3="1" k4="-0.5" result="sm"/>
<feComponentTransfer in="sm"><feFuncR type="table" tableValues="0 0 0 0 0.5 1 1 1 0.5"/><feFuncG type="table" tableValues="0 0 0.5 1 1 1 0.5 0 0"/><feFuncB type="table" tableValues="0.5 1 1 1 0.5 0 0 0 0"/><feFuncA type="linear" slope="0" intercept="1"/></feComponentTransfer>
</filter>
<g clip-path="url(#c4b)"><g filter="url(#f4b)">
<rect x="361.6" y="727.3" width="238.1" height="187.8" fill="#595959"/>
<rect x="376.6" y="742.3" width="10.0" height="158.0" rx="0" fill="#333333"/>
<rect x="376.6" y="742.3" width="20.0" height="25.0" rx="0" fill="#262626"/>
<rect x="376.6" y="767.3" width="208.0" height="10.0" rx="0" fill="#424242"/>
<rect x="376.6" y="862.3" width="208.0" height="38.0" rx="0" fill="#3d3d3d"/>
<ellipse cx="443.6" cy="788.3" rx="8.0" ry="8.0" fill="#212121"/>
<ellipse cx="476.6" cy="778.3" rx="8.0" ry="8.0" fill="#1a1a1a"/>
<ellipse cx="558.6" cy="788.3" rx="8.0" ry="8.0" fill="#212121"/>
<ellipse cx="504.6" cy="833.3" rx="8.0" ry="8.0" fill="#262626"/>
<ellipse cx="443.6" cy="848.3" rx="8.0" ry="8.0" fill="#262626"/>
<ellipse cx="528.6" cy="803.3" rx="6.0" ry="6.0" fill="#333333"/>
<ellipse cx="509.6" cy="754.3" rx="15.0" ry="6.0" fill="#1f1f1f"/>
<ellipse cx="401.6" cy="882.3" rx="12.0" ry="8.0" fill="#262626"/>
<ellipse cx="486.6" cy="892.3" rx="15.0" ry="6.0" fill="#262626"/>
<ellipse cx="566.6" cy="882.3" rx="12.0" ry="8.0" fill="#262626"/>
<ellipse cx="536.6" cy="867.3" rx="10.0" ry="6.0" fill="#333333"/>
<ellipse cx="561.6" cy="757.3" rx="10.8" ry="10.8" fill="#9e9e9e"/>
<ellipse cx="537.6" cy="744.3" rx="7.2" ry="7.2" fill="#9e9e9e"/>
<ellipse cx="381.6" cy="760.3" rx="5.4" ry="5.4" fill="#868686"/>
<ellipse cx="511.6" cy="771.3" rx="7.2" ry="7.2" fill="#9e9e9e"/>
<ellipse cx="576.6" cy="772.3" rx="7.2" ry="7.2" fill="#9e9e9e"/>
<ellipse cx="399.6" cy="800.3" rx="9.0" ry="9.0" fill="#9e9e9e"/>
<ellipse cx="457.6" cy="804.3" rx="14.4" ry="12.6" fill="#9e9e9e"/>
<ellipse cx="422.6" cy="830.3" rx="16.2" ry="16.2" fill="#9e9e9e"/>
<ellipse cx="403.6" cy="842.3" rx="12.6" ry="12.6" fill="#9e9e9e"/>
<ellipse cx="388.6" cy="830.3" rx="9.0" ry="9.0" fill="#9e9e9e"/>
<ellipse cx="464.6" cy="845.3" rx="12.6" ry="12.6" fill="#9e9e9e"/>
<ellipse cx="478.6" cy="820.3" rx="7.2" ry="7.2" fill="#9e9e9e"/>
<ellipse cx="495.6" cy="813.3" rx="7.2" ry="7.2" fill="#9e9e9e"/>
<ellipse cx="510.6" cy="842.3" rx="9.0" ry="9.0" fill="#9e9e9e"/>
<ellipse cx="534.6" cy="821.3" rx="7.2" ry="7.2" fill="#9e9e9e"/>
<ellipse cx="561.6" cy="824.3" rx="21.6" ry="21.6" fill="#9e9e9e"/>
<ellipse cx="572.6" cy="857.3" rx="10.8" ry="10.8" fill="#9e9e9e"/>
<ellipse cx="519.6" cy="857.3" rx="7.2" ry="7.2" fill="#9e9e9e"/>
<ellipse cx="546.6" cy="856.3" rx="5.4" ry="5.4" fill="#868686"/>
<ellipse cx="434.6" cy="806.3" rx="5.4" ry="5.4" fill="#868686"/>
<ellipse cx="449.6" cy="815.3" rx="5.4" ry="5.4" fill="#9e9e9e"/>
<ellipse cx="446.6" cy="882.3" rx="7.2" ry="7.2" fill="#9e9e9e"/>
<ellipse cx="416.6" cy="772.3" rx="7.2" ry="7.2" fill="#808080"/>
<ellipse cx="526.6" cy="782.3" rx="5.4" ry="5.4" fill="#808080"/>
<ellipse cx="486.6" cy="797.3" rx="7.2" ry="7.2" fill="#808080"/>
<ellipse cx="436.6" cy="867.3" rx="7.2" ry="7.2" fill="#7d7d7d"/>
<ellipse cx="496.6" cy="867.3" rx="7.2" ry="7.2" fill="#808080"/>
<ellipse cx="551.6" cy="842.3" rx="5.4" ry="5.4" fill="#808080"/>
<ellipse cx="421.6" cy="873.3" rx="5.4" ry="5.4" fill="#7d7d7d"/>
<ellipse cx="476.6" cy="762.3" rx="5.4" ry="5.4" fill="#7d7d7d"/>
<ellipse cx="561.6" cy="757.3" rx="6.0" ry="6.0" fill="#e0e0e0"/>
<ellipse cx="537.6" cy="744.3" rx="4.0" ry="4.0" fill="#c5c5c5"/>
<ellipse cx="381.6" cy="760.3" rx="3.0" ry="3.0" fill="#a6a6a6"/>
<ellipse cx="511.6" cy="771.3" rx="4.0" ry="4.0" fill="#d4d4d4"/>
<ellipse cx="576.6" cy="772.3" rx="4.0" ry="4.0" fill="#c5c5c5"/>
<ellipse cx="399.6" cy="800.3" rx="5.0" ry="5.0" fill="#e4e4e4"/>
<ellipse cx="457.6" cy="804.3" rx="8.0" ry="7.0" fill="#e4e4e4"/>
<ellipse cx="422.6" cy="830.3" rx="9.0" ry="9.0" fill="#e4e4e4"/>
<ellipse cx="403.6" cy="842.3" rx="7.0" ry="7.0" fill="#dddddd"/>
<ellipse cx="388.6" cy="830.3" rx="5.0" ry="5.0" fill="#cecece"/>
<ellipse cx="464.6" cy="845.3" rx="7.0" ry="7.0" fill="#e4e4e4"/>
<ellipse cx="478.6" cy="820.3" rx="4.0" ry="4.0" fill="#c5c5c5"/>
<ellipse cx="495.6" cy="813.3" rx="4.0" ry="4.0" fill="#c5c5c5"/>
<ellipse cx="510.6" cy="842.3" rx="5.0" ry="5.0" fill="#c5c5c5"/>
<ellipse cx="534.6" cy="821.3" rx="4.0" ry="4.0" fill="#c5c5c5"/>
<ellipse cx="561.6" cy="824.3" rx="12.0" ry="12.0" fill="#dddddd"/>
<ellipse cx="572.6" cy="857.3" rx="6.0" ry="6.0" fill="#d7d7d7"/>
<ellipse cx="519.6" cy="857.3" rx="4.0" ry="4.0" fill="#c5c5c5"/>
<ellipse cx="546.6" cy="856.3" rx="3.0" ry="3.0" fill="#a6a6a6"/>
<ellipse cx="434.6" cy="806.3" rx="3.0" ry="3.0" fill="#a6a6a6"/>
<ellipse cx="449.6" cy="815.3" rx="3.0" ry="3.0" fill="#c5c5c5"/>
<ellipse cx="446.6" cy="882.3" rx="4.0" ry="4.0" fill="#b6b6b6"/>
<ellipse cx="416.6" cy="772.3" rx="4.0" ry="4.0" fill="#999999"/>
<ellipse cx="526.6" cy="782.3" rx="3.0" ry="3.0" fill="#999999"/>
<ellipse cx="486.6" cy="797.3" rx="4.0" ry="4.0" fill="#999999"/>
<ellipse cx="436.6" cy="867.3" rx="4.0" ry="4.0" fill="#949494"/>
<ellipse cx="496.6" cy="867.3" rx="4.0" ry="4.0" fill="#999999"/>
<ellipse cx="551.6" cy="842.3" rx="3.0" ry="3.0" fill="#999999"/>
<ellipse cx="421.6" cy="873.3" rx="3.0" ry="3.0" fill="#949494"/>
<ellipse cx="476.6" cy="762.3" rx="3.0" ry="3.0" fill="#949494"/>
</g></g>
<rect x="349.00" y="742.30" width="27.60" height="157.80" fill="#000"/>
<path transform="translate(324.7,0)" d="M39.7,742.3 C37,750 32.1,758 32.1,768 C32.1,790 47.3,805 47.3,824 C47.3,850 31,870 30.9,884.5" fill="none" stroke="#e00a0a" stroke-width="2"/>
<rect x="537.1" y="891.5" width="41.1" height="6" fill="#0d0000"/>
<line x1="33.4" x2="668.6" y1="766.7" y2="766.7" stroke="#9a9a9a" stroke-width="1.5" stroke-dasharray="3.5 1.9"/>
<line x1="33.4" x2="668.6" y1="883.4" y2="883.4" stroke="#9a9a9a" stroke-width="1.5" stroke-dasharray="3.5 1.9"/>
<text transform="translate(18.4,853.0) rotate(-90)" font-size="22.5" text-anchor="middle">Topo V</text>
<path d="M259.6,741.7 H342.6" stroke="#000" stroke-width="1.1" fill="none"/>
<line x1="259.6" x2="259.6" y1="741.7" y2="738.5" stroke="#000" stroke-width="0.9"/>
<line x1="271.5" x2="271.5" y1="741.7" y2="738.5" stroke="#000" stroke-width="0.9"/>
<line x1="283.5" x2="283.5" y1="741.7" y2="738.5" stroke="#000" stroke-width="0.9"/>
<line x1="295.4" x2="295.4" y1="741.7" y2="738.5" stroke="#000" stroke-width="0.9"/>
<line x1="307.3" x2="307.3" y1="741.7" y2="738.5" stroke="#000" stroke-width="0.9"/>
<line x1="319.2" x2="319.2" y1="741.7" y2="738.5" stroke="#000" stroke-width="0.9"/>
<line x1="331.2" x2="331.2" y1="741.7" y2="738.5" stroke="#000" stroke-width="0.9"/>
<line x1="343.1" x2="343.1" y1="741.7" y2="738.5" stroke="#000" stroke-width="0.9"/>
<text x="259.6" y="736.8" font-size="12" text-anchor="middle">0.8</text>
<text x="283.5" y="736.8" font-size="12" text-anchor="middle">1</text>
<text x="307.3" y="736.8" font-size="12" text-anchor="middle">1.2</text>
<text x="331.2" y="736.8" font-size="12" text-anchor="middle">1.4</text>
<path d="M584.3,741.7 H667.8" stroke="#000" stroke-width="1.1" fill="none"/>
<line x1="584.3" x2="584.3" y1="741.7" y2="738.5" stroke="#000" stroke-width="0.9"/>
<line x1="601.0" x2="601.0" y1="741.7" y2="738.5" stroke="#000" stroke-width="0.9"/>
<line x1="617.7" x2="617.7" y1="741.7" y2="738.5" stroke="#000" stroke-width="0.9"/>
<line x1="634.4" x2="634.4" y1="741.7" y2="738.5" stroke="#000" stroke-width="0.9"/>
<line x1="651.1" x2="651.1" y1="741.7" y2="738.5" stroke="#000" stroke-width="0.9"/>
<line x1="667.8" x2="667.8" y1="741.7" y2="738.5" stroke="#000" stroke-width="0.9"/>
<text x="584.3" y="736.7" font-size="12" text-anchor="middle">0</text>
<text x="617.7" y="736.7" font-size="12" text-anchor="middle">0.2</text>
<text x="651.1" y="736.7" font-size="12" text-anchor="middle">0.4</text>
<clipPath id="c5a"><rect x="51.90" y="918.10" width="208.10" height="158.80"/></clipPath>
<filter id="f5a" filterUnits="userSpaceOnUse" x="31.9" y="898.1" width="248.1" height="198.8" color-interpolation-filters="sRGB">
<feTurbulence type="fractalNoise" baseFrequency="0.1" numOctaves="2" seed="61" result="dn"/>
<feDisplacementMap in="SourceGraphic" in2="dn" scale="5" xChannelSelector="R" yChannelSelector="G" result="dsp"/>
<feGaussianBlur in="dsp" stdDeviation="2.2" result="bl"/>
<feTurbulence type="fractalNoise" baseFrequency="0.075" numOctaves="3" seed="11" result="tn"/>
<feColorMatrix in="tn" type="matrix" values="1 0 0 0 0 1 0 0 0 0 1 0 0 0 0 0 0 0 0 1" result="tg"/>
<feComposite in="bl" in2="tg" operator="arithmetic" k1="0" k2="1" k3="0.45" k4="-0.225" result="sm"/>
<feComponentTransfer in="sm"><feFuncR type="table" tableValues="0 0 0 0 0.5 1 1 1 0.5"/><feFuncG type="table" tableValues="0 0 0.5 1 1 1 0.5 0 0"/><feFuncB type="table" tableValues="0.5 1 1 1 0.5 0 0 0 0"/><feFuncA type="linear" slope="0" intercept="1"/></feComponentTransfer>
</filter>
<g clip-path="url(#c5a)"><g filter="url(#f5a)">
<rect x="36.9" y="903.1" width="238.1" height="188.8" fill="#707070"/>
<ellipse cx="57.9" cy="998.1" rx="8.0" ry="80.0" fill="#525252" filter="url(#soft5)"/>
<ellipse cx="81.9" cy="924.1" rx="18.0" ry="8.0" fill="#545454" filter="url(#soft5)"/>
<ellipse cx="65.9" cy="1030.1" rx="10.0" ry="12.0" fill="#3d3d3d" filter="url(#soft5)"/>
<ellipse cx="245.9" cy="998.1" rx="22.0" ry="75.0" fill="#3d3d3d" filter="url(#soft8)"/>
<ellipse cx="251.9" cy="958.1" rx="10.0" ry="22.0" fill="#333333" filter="url(#soft5)"/>
<ellipse cx="251.9" cy="1043.1" rx="10.0" ry="25.0" fill="#333333" filter="url(#soft5)"/>
<ellipse cx="221.9" cy="938.1" rx="10.0" ry="15.0" fill="#4c4c4c" filter="url(#soft5)"/>
<ellipse cx="191.9" cy="988.1" rx="8.0" ry="6.0" fill="#525252" filter="url(#soft3)"/>
<ellipse cx="121.9" cy="963.1" rx="45.0" ry="40.0" fill="#808080" filter="url(#soft8)"/>
<ellipse cx="126.9" cy="1026.1" rx="30.0" ry="35.0" fill="#808080" filter="url(#soft8)"/>
<ellipse cx="163.9" cy="936.1" rx="3.0" ry="3.0" fill="#a8a8a8"/>
<ellipse cx="124.9" cy="985.1" rx="3.0" ry="3.0" fill="#bdbdbd"/>
<ellipse cx="139.9" cy="1015.1" rx="4.0" ry="4.0" fill="#9e9e9e"/>
<ellipse cx="129.9" cy="1053.1" rx="3.0" ry="4.0" fill="#bdbdbd"/>
<ellipse cx="106.9" cy="1036.1" rx="4.0" ry="4.0" fill="#999999"/>
<ellipse cx="78.9" cy="982.1" rx="4.0" ry="4.0" fill="#949494"/>
</g></g>
<rect x="24.30" y="918.10" width="27.60" height="158.80" fill="#000"/>
<rect x="212.4" y="1068.3" width="41.1" height="6" fill="#0d0000"/>
<clipPath id="c5b"><rect x="376.60" y="918.10" width="208.10" height="158.80"/></clipPath>
<filter id="f5b" filterUnits="userSpaceOnUse" x="356.6" y="898.1" width="248.1" height="198.8" color-interpolation-filters="sRGB">
<feTurbulence type="fractalNoise" baseFrequency="0.15" numOctaves="2" seed="62" result="dn"/>
<feDisplacementMap in="SourceGraphic" in2="dn" scale="8" xChannelSelector="R" yChannelSelector="G" result="dsp"/>
<feGaussianBlur in="dsp" stdDeviation="1.6" result="bl"/>
<feTurbulence type="fractalNoise" baseFrequency="0.08" numOctaves="2" seed="12" result="tn"/>
<feColorMatrix in="tn" type="matrix" values="1 0 0 0 0 1 0 0 0 0 1 0 0 0 0 0 0 0 0 1" result="tg"/>
<feComposite in="bl" in2="tg" operator="arithmetic" k1="0" k2="1" k3="1" k4="-0.5" result="sm"/>
<feComponentTransfer in="sm"><feFuncR type="table" tableValues="0 0 0 0 0.5 1 1 1 0.5"/><feFuncG type="table" tableValues="0 0 0.5 1 1 1 0.5 0 0"/><feFuncB type="table" tableValues="0.5 1 1 1 0.5 0 0 0 0"/><feFuncA type="linear" slope="0" intercept="1"/></feComponentTransfer>
</filter>
<g clip-path="url(#c5b)"><g filter="url(#f5b)">
<rect x="361.6" y="903.1" width="238.1" height="188.8" fill="#6b6b6b"/>
<rect x="376.6" y="918.1" width="4.0" height="158.0" rx="0" fill="#333333"/>
<rect x="576.6" y="918.1" width="8.0" height="158.0" rx="0" fill="#474747"/>
<ellipse cx="391.6" cy="948.1" rx="10.0" ry="8.0" fill="#262626"/>
<ellipse cx="461.6" cy="930.1" rx="8.0" ry="6.0" fill="#333333"/>
<ellipse cx="513.6" cy="948.1" rx="8.0" ry="6.0" fill="#262626"/>
<ellipse cx="561.6" cy="954.1" rx="6.0" ry="8.0" fill="#1a1a1a"/>
<ellipse cx="449.6" cy="958.1" rx="6.0" ry="6.0" fill="#333333"/>
<ellipse cx="501.6" cy="982.1" rx="6.0" ry="6.0" fill="#333333"/>
<ellipse cx="391.6" cy="1006.1" rx="8.0" ry="8.0" fill="#1a1a1a"/>
<ellipse cx="458.6" cy="1018.1" rx="8.0" ry="8.0" fill="#1a1a1a"/>
<ellipse cx="513.6" cy="1015.1" rx="10.0" ry="6.0" fill="#1a1a1a"/>
<ellipse cx="540.6" cy="1003.1" rx="6.0" ry="6.0" fill="#2e2e2e"/>
<ellipse cx="394.6" cy="1043.1" rx="6.0" ry="6.0" fill="#333333"/>
<ellipse cx="434.6" cy="1055.1" rx="6.0" ry="6.0" fill="#333333"/>
<ellipse cx="494.6" cy="1036.1" rx="6.0" ry="6.0" fill="#333333"/>
<ellipse cx="571.6" cy="1006.1" rx="6.0" ry="6.0" fill="#262626"/>
<ellipse cx="546.6" cy="1055.1" rx="6.0" ry="6.0" fill="#333333"/>
<ellipse cx="422.6" cy="1012.1" rx="6.0" ry="6.0" fill="#333333"/>
<ellipse cx="416.6" cy="928.1" rx="5.0" ry="5.0" fill="#404040"/>
<ellipse cx="536.6" cy="928.1" rx="5.0" ry="5.0" fill="#404040"/>
<ellipse cx="481.6" cy="953.1" rx="5.0" ry="5.0" fill="#404040"/>
<ellipse cx="566.6" cy="1068.1" rx="6.0" ry="6.0" fill="#333333"/>
<ellipse cx="381.6" cy="978.1" rx="4.0" ry="8.0" fill="#333333"/>
<ellipse cx="525.6" cy="932.1" rx="12.6" ry="12.6" fill="#9e9e9e"/>
<ellipse cx="469.6" cy="991.1" rx="9.0" ry="9.0" fill="#9e9e9e"/>
<ellipse cx="484.6" cy="1002.1" rx="9.0" ry="9.0" fill="#9e9e9e"/>
<ellipse cx="488.6" cy="1015.1" rx="9.0" ry="9.0" fill="#9e9e9e"/>
<ellipse cx="528.6" cy="1032.1" rx="9.0" ry="9.0" fill="#9e9e9e"/>
<ellipse cx="399.6" cy="927.1" rx="5.4" ry="5.4" fill="#8a8a8a"/>
<ellipse cx="475.6" cy="942.1" rx="7.2" ry="7.2" fill="#8c8c8c"/>
<ellipse cx="510.6" cy="964.1" rx="7.2" ry="7.2" fill="#8c8c8c"/>
<ellipse cx="484.6" cy="965.1" rx="5.4" ry="5.4" fill="#858585"/>
<ellipse cx="394.6" cy="967.1" rx="5.4" ry="5.4" fill="#8a8a8a"/>
<ellipse cx="426.6" cy="979.1" rx="5.4" ry="5.4" fill="#8a8a8a"/>
<ellipse cx="441.6" cy="988.1" rx="5.4" ry="5.4" fill="#8a8a8a"/>
<ellipse cx="548.6" cy="964.1" rx="5.4" ry="5.4" fill="#8a8a8a"/>
<ellipse cx="571.6" cy="982.1" rx="5.4" ry="5.4" fill="#8a8a8a"/>
<ellipse cx="382.6" cy="1030.1" rx="9.0" ry="9.0" fill="#9e9e9e"/>
<ellipse cx="460.6" cy="1041.1" rx="7.2" ry="7.2" fill="#9e9e9e"/>
<ellipse cx="510.6" cy="1052.1" rx="7.2" ry="7.2" fill="#9e9e9e"/>
<ellipse cx="485.6" cy="1062.1" rx="5.4" ry="5.4" fill="#878787"/>
<ellipse cx="467.6" cy="920.1" rx="7.2" ry="7.2" fill="#9e9e9e"/>
<ellipse cx="403.6" cy="1073.1" rx="7.2" ry="7.2" fill="#9e9e9e"/>
<ellipse cx="558.6" cy="1030.1" rx="5.4" ry="5.4" fill="#878787"/>
<ellipse cx="574.6" cy="1036.1" rx="5.4" ry="5.4" fill="#878787"/>
<ellipse cx="416.6" cy="988.1" rx="7.2" ry="7.2" fill="#828282"/>
<ellipse cx="436.6" cy="948.1" rx="7.2" ry="7.2" fill="#828282"/>
<ellipse cx="496.6" cy="928.1" rx="5.4" ry="5.4" fill="#808080"/>
<ellipse cx="546.6" cy="938.1" rx="5.4" ry="5.4" fill="#808080"/>
<ellipse cx="406.6" cy="1058.1" rx="7.2" ry="7.2" fill="#828282"/>
<ellipse cx="526.6" cy="1068.1" rx="7.2" ry="7.2" fill="#808080"/>
<ellipse cx="566.6" cy="1053.1" rx="5.4" ry="5.4" fill="#808080"/>
<ellipse cx="446.6" cy="1028.1" rx="5.4" ry="5.4" fill="#808080"/>
<ellipse cx="476.6" cy="1048.1" rx="5.4" ry="5.4" fill="#808080"/>
<ellipse cx="506.6" cy="998.1" rx="5.4" ry="5.4" fill="#808080"/>
<ellipse cx="525.6" cy="932.1" rx="7.0" ry="7.0" fill="#e4e4e4"/>
<ellipse cx="469.6" cy="991.1" rx="5.0" ry="5.0" fill="#e0e0e0"/>
<ellipse cx="484.6" cy="1002.1" rx="5.0" ry="5.0" fill="#d7d7d7"/>
<ellipse cx="488.6" cy="1015.1" rx="5.0" ry="5.0" fill="#d7d7d7"/>
<ellipse cx="528.6" cy="1032.1" rx="5.0" ry="5.0" fill="#e0e0e0"/>
<ellipse cx="399.6" cy="927.1" rx="3.0" ry="3.0" fill="#adadad"/>
<ellipse cx="475.6" cy="942.1" rx="4.0" ry="4.0" fill="#b2b2b2"/>
<ellipse cx="510.6" cy="964.1" rx="4.0" ry="4.0" fill="#b2b2b2"/>
<ellipse cx="484.6" cy="965.1" rx="3.0" ry="3.0" fill="#a3a3a3"/>
<ellipse cx="394.6" cy="967.1" rx="3.0" ry="3.0" fill="#adadad"/>
<ellipse cx="426.6" cy="979.1" rx="3.0" ry="3.0" fill="#adadad"/>
<ellipse cx="441.6" cy="988.1" rx="3.0" ry="3.0" fill="#adadad"/>
<ellipse cx="548.6" cy="964.1" rx="3.0" ry="3.0" fill="#adadad"/>
<ellipse cx="571.6" cy="982.1" rx="3.0" ry="3.0" fill="#adadad"/>
<ellipse cx="382.6" cy="1030.1" rx="5.0" ry="5.0" fill="#bababa"/>
<ellipse cx="460.6" cy="1041.1" rx="4.0" ry="4.0" fill="#b6b6b6"/>
<ellipse cx="510.6" cy="1052.1" rx="4.0" ry="4.0" fill="#d4d4d4"/>
<ellipse cx="485.6" cy="1062.1" rx="3.0" ry="3.0" fill="#a8a8a8"/>
<ellipse cx="467.6" cy="920.1" rx="4.0" ry="4.0" fill="#d4d4d4"/>
<ellipse cx="403.6" cy="1073.1" rx="4.0" ry="4.0" fill="#d4d4d4"/>
<ellipse cx="558.6" cy="1030.1" rx="3.0" ry="3.0" fill="#a8a8a8"/>
<ellipse cx="574.6" cy="1036.1" rx="3.0" ry="3.0" fill="#a8a8a8"/>
<ellipse cx="416.6" cy="988.1" rx="4.0" ry="4.0" fill="#9e9e9e"/>
<ellipse cx="436.6" cy="948.1" rx="4.0" ry="4.0" fill="#9e9e9e"/>
<ellipse cx="496.6" cy="928.1" rx="3.0" ry="3.0" fill="#999999"/>
<ellipse cx="546.6" cy="938.1" rx="3.0" ry="3.0" fill="#999999"/>
<ellipse cx="406.6" cy="1058.1" rx="4.0" ry="4.0" fill="#9e9e9e"/>
<ellipse cx="526.6" cy="1068.1" rx="4.0" ry="4.0" fill="#999999"/>
<ellipse cx="566.6" cy="1053.1" rx="3.0" ry="3.0" fill="#999999"/>
<ellipse cx="446.6" cy="1028.1" rx="3.0" ry="3.0" fill="#999999"/>
<ellipse cx="476.6" cy="1048.1" rx="3.0" ry="3.0" fill="#999999"/>
<ellipse cx="506.6" cy="998.1" rx="3.0" ry="3.0" fill="#999999"/>
</g></g>
<rect x="349.00" y="918.10" width="27.60" height="158.80" fill="#000"/>
<rect x="537.1" y="1068.3" width="41.1" height="6" fill="#0d0000"/>
<text transform="translate(18.4,1018.0) rotate(-90)" font-size="22.5" text-anchor="middle">Flat</text>
<path d="M259.6,917.5 H342.6" stroke="#000" stroke-width="1.1" fill="none"/>
<line x1="259.6" x2="259.6" y1="917.5" y2="914.3" stroke="#000" stroke-width="0.9"/>
<line x1="271.5" x2="271.5" y1="917.5" y2="914.3" stroke="#000" stroke-width="0.9"/>
<line x1="283.5" x2="283.5" y1="917.5" y2="914.3" stroke="#000" stroke-width="0.9"/>
<line x1="295.4" x2="295.4" y1="917.5" y2="914.3" stroke="#000" stroke-width="0.9"/>
<line x1="307.3" x2="307.3" y1="917.5" y2="914.3" stroke="#000" stroke-width="0.9"/>
<line x1="319.2" x2="319.2" y1="917.5" y2="914.3" stroke="#000" stroke-width="0.9"/>
<line x1="331.2" x2="331.2" y1="917.5" y2="914.3" stroke="#000" stroke-width="0.9"/>
<line x1="343.1" x2="343.1" y1="917.5" y2="914.3" stroke="#000" stroke-width="0.9"/>
<text x="259.6" y="912.6" font-size="12" text-anchor="middle">0.8</text>
<text x="283.5" y="912.6" font-size="12" text-anchor="middle">1</text>
<text x="307.3" y="912.6" font-size="12" text-anchor="middle">1.2</text>
<text x="331.2" y="912.6" font-size="12" text-anchor="middle">1.4</text>
<path d="M600,917.5 H682.7" stroke="#000" stroke-width="1.1" fill="none"/>
<line x1="599.9" x2="599.9" y1="917.5" y2="914.3" stroke="#000" stroke-width="0.9"/>
<line x1="616.5" x2="616.5" y1="917.5" y2="914.3" stroke="#000" stroke-width="0.9"/>
<line x1="633.0" x2="633.0" y1="917.5" y2="914.3" stroke="#000" stroke-width="0.9"/>
<line x1="649.6" x2="649.6" y1="917.5" y2="914.3" stroke="#000" stroke-width="0.9"/>
<line x1="666.1" x2="666.1" y1="917.5" y2="914.3" stroke="#000" stroke-width="0.9"/>
<line x1="682.7" x2="682.7" y1="917.5" y2="914.3" stroke="#000" stroke-width="0.9"/>
<text x="583.4" y="912.5" font-size="12" text-anchor="middle">0</text>
<text x="616.5" y="912.5" font-size="12" text-anchor="middle">0.2</text>
<text x="649.6" y="912.5" font-size="12" text-anchor="middle">0.4</text>
<path d="M277.4,40.0 C278.0,41.1 280.4,44.7 281.2,46.8 C281.9,48.9 281.4,51.1 281.9,52.8 C282.4,54.5 284.1,55.5 284.1,57.2 C284.2,58.9 282.4,60.2 282.2,63.2 C282.0,66.2 282.6,72.0 282.7,75.2 C282.8,78.4 282.1,80.4 282.7,82.6 C283.3,84.8 285.0,86.6 286.4,88.6 C287.8,90.6 290.1,92.1 290.9,94.6 C291.6,97.1 291.6,101.1 290.9,103.6 C290.1,106.1 287.5,107.0 286.4,109.5 C285.3,112.0 284.7,116.0 284.1,118.5 C283.5,121.0 282.4,122.0 282.7,124.5 C282.9,127.0 285.1,131.0 285.6,133.5 C286.1,136.0 285.9,137.2 285.6,139.4 C285.4,141.6 284.4,144.2 284.1,146.9 C283.9,149.7 283.2,153.2 284.1,155.9 C285.0,158.7 288.3,161.4 289.4,163.4 C290.5,165.4 291.1,166.1 290.9,167.8 C290.6,169.5 288.1,171.8 287.9,173.8 C287.6,175.8 289.5,177.8 289.4,179.8 C289.3,181.8 288.1,183.8 287.1,185.8 C286.1,187.8 284.4,189.8 283.4,191.8 C282.4,193.8 281.6,196.8 281.2,197.8" fill="none" stroke="#3a3a3a" stroke-width="1.1" stroke-linejoin="round"/>
<path d="M285.6,40.2 C287.0,41.2 290.8,44.5 293.9,46.2 C297.0,48.0 300.3,49.2 304.3,50.7 C308.3,52.2 314.3,53.8 317.8,55.2 C321.3,56.6 323.7,58.0 325.3,58.9 C326.9,59.8 328.2,60.1 327.5,60.7 C326.8,61.3 326.7,62.0 320.8,62.7 C314.9,63.4 300.9,64.3 292.4,64.9 C283.9,65.5 274.7,65.6 270.0,66.1 C265.3,66.6 264.2,67.2 264.0,67.9 C263.8,68.6 266.5,69.0 268.5,70.1 C270.5,71.2 273.9,73.0 275.9,74.6 C277.9,76.2 279.6,78.0 280.4,79.9 C281.2,81.8 280.4,83.6 280.7,85.8 C280.9,88.0 281.3,91.3 281.9,93.3 C282.5,95.3 284.6,96.0 284.1,97.8 C283.6,99.5 280.8,101.6 278.9,103.8 C277.0,106.0 274.5,109.3 272.9,111.2 C271.3,113.1 268.7,114.0 269.2,115.0 C269.7,116.0 270.0,116.5 275.9,117.2 C281.8,118.0 296.6,118.9 304.3,119.5 C312.0,120.1 320.1,120.2 322.3,121.0 C324.6,121.8 321.6,122.6 317.8,124.0 C314.1,125.4 305.0,127.3 299.8,129.2 C294.6,131.1 289.6,133.2 286.4,135.2 C283.2,137.2 281.9,139.4 280.4,141.1 C278.9,142.8 278.4,144.1 277.4,145.6 C276.4,147.1 274.1,148.3 274.4,150.1 C274.6,151.8 276.1,153.6 278.9,156.1 C281.6,158.6 286.4,162.4 290.9,165.1 C295.4,167.8 301.7,170.4 305.8,172.5 C309.9,174.6 314.5,176.4 315.5,177.8 C316.5,179.2 315.7,179.9 311.8,180.8 C307.9,181.7 298.1,182.4 292.4,183.0 C286.7,183.6 280.9,184.0 277.4,184.5 C273.9,185.0 271.4,185.0 271.4,186.0 C271.4,187.0 275.1,189.0 277.4,190.5 C279.6,192.0 283.5,193.8 284.9,195.0 C286.3,196.2 285.5,197.5 285.6,198.0" fill="none" stroke="#f2a623" stroke-width="1.35" stroke-linejoin="round"/>
<path d="M624.1,40.2 C623.9,41.1 622.0,43.4 622.6,45.5 C623.2,47.6 627.4,50.5 627.8,53.0 C628.2,55.5 625.8,57.9 624.8,60.4 C623.8,62.9 622.6,65.7 621.9,67.9 C621.2,70.2 619.9,72.2 620.4,73.9 C620.9,75.7 623.3,76.4 624.8,78.4 C626.3,80.4 629.5,83.8 629.3,85.8 C629.0,87.8 625.0,88.5 623.3,90.3 C621.6,92.0 619.1,94.0 618.9,96.3 C618.7,98.5 619.7,101.4 621.9,103.8 C624.1,106.2 631.3,107.8 632.3,110.5 C633.3,113.2 629.8,117.8 627.8,120.2 C625.8,122.6 622.1,123.0 620.4,124.7 C618.7,126.5 617.1,128.2 617.4,130.7 C617.6,133.2 619.4,136.6 621.9,139.6 C624.4,142.6 631.3,145.6 632.3,148.6 C633.3,151.6 628.8,154.6 627.8,157.6 C626.8,160.6 626.8,163.6 626.3,166.6 C625.8,169.6 624.5,173.0 624.8,175.5 C625.0,178.0 626.7,179.0 627.8,181.5 C628.9,184.0 631.4,187.8 631.6,190.5 C631.9,193.2 629.7,196.8 629.3,198.0" fill="none" stroke="#3a3a3a" stroke-width="1.1" stroke-linejoin="round"/>
<path d="M625.6,40.2 C626.2,40.8 626.4,42.5 629.3,44.0 C632.2,45.5 639.3,47.6 642.8,49.2 C646.3,50.8 649.8,52.5 650.3,53.7 C650.8,55.0 650.0,55.6 645.8,56.7 C641.5,57.8 630.8,59.3 624.8,60.4 C618.8,61.5 613.5,62.5 609.9,63.4 C606.3,64.3 604.0,64.7 603.2,65.7 C602.5,66.7 603.5,68.0 605.4,69.4 C607.3,70.8 611.2,72.4 614.4,73.9 C617.6,75.4 621.7,76.4 624.8,78.4 C627.9,80.4 631.5,83.6 633.1,85.8 C634.7,88.0 633.9,89.8 634.6,91.8 C635.3,93.8 638.1,95.8 637.5,97.8 C636.9,99.8 634.1,101.8 630.8,103.8 C627.4,105.8 622.1,107.7 617.4,109.7 C612.7,111.7 604.4,114.2 602.4,115.7 C600.4,117.2 601.7,117.7 605.4,118.7 C609.1,119.7 618.6,120.5 624.8,121.7 C631.0,123.0 638.9,125.0 642.8,126.2 C646.7,127.5 648.5,127.4 648.0,129.2 C647.5,130.9 643.4,134.5 639.8,136.7 C636.2,138.9 628.7,140.6 626.3,142.6 C623.9,144.6 625.1,146.3 625.6,148.6 C626.1,150.8 626.9,153.6 629.3,156.1 C631.7,158.6 636.5,161.4 639.8,163.6 C643.0,165.8 647.8,167.5 648.8,169.5 C649.8,171.5 649.8,173.8 645.8,175.5 C641.8,177.2 631.3,178.8 624.8,180.0 C618.3,181.2 610.6,182.0 606.9,183.0 C603.2,184.0 602.4,184.8 602.4,186.0 C602.4,187.2 604.5,188.5 606.9,190.5 C609.3,192.5 615.0,196.8 616.6,198.0" fill="none" stroke="#f2a623" stroke-width="1.35" stroke-linejoin="round"/>
<path d="M277.4,214.2 C278.0,215.3 280.4,218.9 281.2,221.0 C281.9,223.1 281.4,225.3 281.9,227.0 C282.4,228.7 284.1,229.7 284.1,231.4 C284.2,233.1 282.4,234.4 282.2,237.4 C282.0,240.4 282.6,246.2 282.7,249.4 C282.8,252.6 282.1,254.6 282.7,256.8 C283.3,259.0 285.0,260.8 286.4,262.8 C287.8,264.8 290.1,266.3 290.9,268.8 C291.6,271.3 291.6,275.3 290.9,277.8 C290.1,280.3 287.5,281.2 286.4,283.7 C285.3,286.2 284.7,290.2 284.1,292.7 C283.5,295.2 282.4,296.2 282.7,298.7 C282.9,301.2 285.1,305.2 285.6,307.7 C286.1,310.2 285.9,311.4 285.6,313.6 C285.4,315.8 284.4,318.4 284.1,321.1 C283.9,323.9 283.2,327.4 284.1,330.1 C285.0,332.9 288.3,335.6 289.4,337.6 C290.5,339.6 291.1,340.3 290.9,342.0 C290.6,343.7 288.1,346.0 287.9,348.0 C287.6,350.0 289.5,352.0 289.4,354.0 C289.3,356.0 288.1,358.0 287.1,360.0 C286.1,362.0 284.4,364.0 283.4,366.0 C282.4,368.0 281.6,371.0 281.2,372.0" fill="none" stroke="#3a3a3a" stroke-width="1.1" stroke-linejoin="round"/>
<path d="M311.8,214.2 C312.3,215.2 313.3,218.3 314.8,220.2 C316.3,222.1 319.2,223.8 320.8,225.5 C322.4,227.2 324.8,229.3 324.5,230.7 C324.2,232.1 323.4,232.8 319.3,233.7 C315.2,234.6 306.8,235.2 299.8,235.9 C292.8,236.7 282.4,237.4 277.4,238.2 C272.4,238.9 270.5,239.0 270.0,240.4 C269.5,241.8 273.0,244.2 274.4,246.4 C275.8,248.7 277.1,251.4 278.2,253.9 C279.3,256.4 281.3,259.1 281.2,261.3 C281.1,263.5 278.0,265.1 277.4,267.3 C276.8,269.6 277.9,272.8 277.4,274.8 C276.9,276.8 275.9,277.7 274.4,279.3 C272.9,280.9 268.5,283.1 268.5,284.5 C268.5,285.9 269.2,286.6 274.4,287.5 C279.6,288.4 292.3,288.7 299.8,289.7 C307.3,290.7 316.6,292.1 319.3,293.5 C322.1,294.9 317.1,296.6 316.3,298.0 C315.6,299.4 316.6,300.6 314.8,301.7 C313.1,302.8 308.6,303.2 305.8,304.7 C303.1,306.2 300.0,308.5 298.3,310.7 C296.6,312.9 296.6,315.9 295.4,318.1 C294.2,320.3 290.9,322.1 290.9,324.1 C290.9,326.1 292.7,328.1 295.4,330.1 C298.1,332.1 302.3,333.9 307.3,336.1 C312.3,338.3 320.4,341.5 325.3,343.5 C330.2,345.5 336.5,346.8 336.5,348.0 C336.5,349.2 332.7,350.0 325.3,351.0 C317.9,352.0 300.9,353.1 292.4,354.0 C283.9,354.9 277.6,355.3 274.4,356.2 C271.1,357.1 272.0,358.1 272.9,359.2 C273.8,360.3 278.7,361.6 279.7,363.0 C280.7,364.4 279.8,366.0 278.9,367.5 C278.0,369.0 275.1,371.2 274.4,372.0" fill="none" stroke="#2a82c4" stroke-width="1.35" stroke-linejoin="round"/>
<path d="M624.1,214.4 C623.9,215.3 622.0,217.6 622.6,219.7 C623.2,221.8 627.4,224.7 627.8,227.2 C628.2,229.7 625.8,232.1 624.8,234.6 C623.8,237.1 622.6,239.8 621.9,242.1 C621.2,244.3 619.9,246.3 620.4,248.1 C620.9,249.8 623.3,250.6 624.8,252.6 C626.3,254.6 629.5,258.0 629.3,260.0 C629.0,262.0 625.0,262.8 623.3,264.5 C621.6,266.2 619.1,268.2 618.9,270.5 C618.7,272.8 619.7,275.6 621.9,278.0 C624.1,280.4 631.3,282.0 632.3,284.7 C633.3,287.4 629.8,292.0 627.8,294.4 C625.8,296.8 622.1,297.1 620.4,298.9 C618.7,300.6 617.1,302.4 617.4,304.9 C617.6,307.4 619.4,310.8 621.9,313.8 C624.4,316.8 631.3,319.8 632.3,322.8 C633.3,325.8 628.8,328.8 627.8,331.8 C626.8,334.8 626.8,337.8 626.3,340.8 C625.8,343.8 624.5,347.2 624.8,349.7 C625.0,352.2 626.7,353.2 627.8,355.7 C628.9,358.2 631.4,361.9 631.6,364.7 C631.9,367.4 629.7,370.9 629.3,372.2" fill="none" stroke="#3a3a3a" stroke-width="1.1" stroke-linejoin="round"/>
<path d="M631.6,214.2 C632.5,214.8 635.1,216.5 636.8,218.0 C638.5,219.5 641.0,221.5 642.0,223.2 C643.0,224.9 642.9,226.8 642.8,228.4 C642.7,230.0 643.5,231.5 641.3,232.9 C639.0,234.3 633.5,235.7 629.3,236.7 C625.1,237.7 618.3,238.0 615.9,238.9 C613.5,239.8 614.1,240.7 615.1,241.9 C616.1,243.2 619.0,244.9 621.9,246.4 C624.8,247.9 629.8,249.2 632.3,250.9 C634.8,252.6 635.5,254.8 636.8,256.8 C638.0,258.8 638.9,260.7 639.8,262.8 C640.7,264.9 642.5,267.5 642.0,269.5 C641.5,271.5 639.7,272.9 636.8,274.8 C633.9,276.7 629.0,279.3 624.8,280.8 C620.6,282.3 614.0,282.7 611.4,283.7 C608.8,284.7 608.1,285.6 609.1,286.7 C610.1,287.8 612.3,289.1 617.4,290.5 C622.5,291.9 633.9,293.6 639.8,295.0 C645.6,296.4 650.8,297.3 652.5,298.7 C654.2,300.1 652.4,301.4 650.3,303.2 C648.2,304.9 643.0,307.2 639.8,309.2 C636.5,311.2 633.0,312.9 630.8,315.1 C628.5,317.3 627.7,320.4 626.3,322.6 C624.9,324.9 622.4,326.9 622.6,328.6 C622.9,330.4 625.9,331.5 627.8,333.1 C629.7,334.7 633.5,336.8 633.8,338.3 C634.0,339.8 631.5,340.4 629.3,342.0 C627.1,343.6 624.9,346.2 620.4,348.0 C615.9,349.8 606.6,351.0 602.4,352.5 C598.1,354.0 596.1,355.5 594.9,357.0 C593.6,358.5 594.1,359.8 594.9,361.5 C595.6,363.2 597.9,365.6 599.4,367.5 C600.9,369.4 603.1,371.8 603.9,372.7" fill="none" stroke="#2a82c4" stroke-width="1.35" stroke-linejoin="round"/>
<path d="M277.4,391.1 C278.0,392.2 280.4,395.8 281.2,397.9 C281.9,400.0 281.4,402.2 281.9,403.9 C282.4,405.6 284.1,406.6 284.1,408.3 C284.2,410.0 282.4,411.3 282.2,414.3 C282.0,417.3 282.6,423.1 282.7,426.3 C282.8,429.5 282.1,431.5 282.7,433.7 C283.3,435.9 285.0,437.7 286.4,439.7 C287.8,441.7 290.1,443.2 290.9,445.7 C291.6,448.2 291.6,452.2 290.9,454.7 C290.1,457.2 287.5,458.1 286.4,460.6 C285.3,463.1 284.7,467.1 284.1,469.6 C283.5,472.1 282.4,473.1 282.7,475.6 C282.9,478.1 285.1,482.1 285.6,484.6 C286.1,487.1 285.9,488.3 285.6,490.5 C285.4,492.7 284.4,495.2 284.1,498.0 C283.9,500.8 283.2,504.2 284.1,507.0 C285.0,509.8 288.3,512.5 289.4,514.5 C290.5,516.5 291.1,517.2 290.9,518.9 C290.6,520.6 288.1,522.9 287.9,524.9 C287.6,526.9 289.5,528.9 289.4,530.9 C289.3,532.9 288.1,534.9 287.1,536.9 C286.1,538.9 284.4,540.9 283.4,542.9 C282.4,544.9 281.6,547.9 281.2,548.9" fill="none" stroke="#3a3a3a" stroke-width="1.1" stroke-linejoin="round"/>
<path d="M316.3,391.2 C317.1,391.6 319.3,392.1 320.8,393.5 C322.3,394.9 325.3,397.9 325.3,399.5 C325.3,401.1 321.4,402.1 320.8,403.2 C320.2,404.3 323.8,405.2 321.5,406.2 C319.2,407.2 313.4,408.1 307.3,409.2 C301.2,410.3 290.9,411.8 284.9,412.9 C278.9,414.0 274.1,414.9 271.4,415.9 C268.7,416.9 268.5,417.4 268.5,418.9 C268.5,420.4 269.9,423.0 271.4,424.9 C272.9,426.8 276.0,428.4 277.4,430.1 C278.8,431.8 279.3,433.4 279.7,435.3 C280.1,437.2 279.6,439.3 279.7,441.3 C279.8,443.3 280.9,445.3 280.4,447.3 C279.9,449.3 277.2,451.3 276.7,453.3 C276.2,455.3 276.0,457.8 277.4,459.3 C278.8,460.8 281.2,461.2 284.9,462.2 C288.6,463.2 295.8,463.8 299.8,465.2 C303.8,466.6 307.8,468.5 308.8,470.5 C309.8,472.5 307.7,474.8 305.8,477.2 C303.9,479.6 299.0,482.8 297.6,484.7 C296.2,486.6 298.5,487.2 297.6,488.4 C296.7,489.6 293.8,490.5 292.4,492.1 C291.0,493.7 288.6,495.9 289.4,498.1 C290.1,500.4 293.9,502.6 296.9,505.6 C299.9,508.6 304.1,512.9 307.3,516.1 C310.5,519.3 315.6,523.1 316.3,525.0 C317.1,526.9 315.8,526.0 311.8,527.3 C307.8,528.5 296.9,530.9 292.4,532.5 C287.9,534.1 286.3,535.2 284.9,537.0 C283.5,538.8 284.1,541.0 284.1,543.0 C284.1,545.0 284.8,548.0 284.9,549.0" fill="none" stroke="#b8228e" stroke-width="1.35" stroke-linejoin="round"/>
<path d="M600.9,391.1 C601.5,392.2 604.0,395.8 604.7,397.9 C605.5,400.0 604.9,402.2 605.4,403.9 C605.9,405.6 607.5,406.6 607.6,408.3 C607.7,410.0 605.9,411.3 605.7,414.3 C605.5,417.3 606.1,423.1 606.2,426.3 C606.3,429.5 605.6,431.5 606.2,433.7 C606.8,435.9 608.5,437.7 609.9,439.7 C611.3,441.7 613.6,443.2 614.4,445.7 C615.1,448.2 615.1,452.2 614.4,454.7 C613.6,457.2 611.0,458.1 609.9,460.6 C608.8,463.1 608.2,467.1 607.6,469.6 C607.0,472.1 606.0,473.1 606.2,475.6 C606.5,478.1 608.6,482.1 609.1,484.6 C609.6,487.1 609.4,488.3 609.1,490.5 C608.9,492.7 607.9,495.2 607.6,498.0 C607.4,500.8 606.7,504.2 607.6,507.0 C608.5,509.8 611.8,512.5 612.9,514.5 C614.0,516.5 614.6,517.2 614.4,518.9 C614.1,520.6 611.6,522.9 611.4,524.9 C611.1,526.9 613.0,528.9 612.9,530.9 C612.8,532.9 611.6,534.9 610.6,536.9 C609.6,538.9 607.9,540.9 606.9,542.9 C605.9,544.9 605.1,547.9 604.7,548.9" fill="none" stroke="#3a3a3a" stroke-width="1.1" stroke-linejoin="round"/>
<path d="M639.8,391.2 C640.5,391.6 642.8,392.1 644.3,393.5 C645.8,394.9 648.8,397.9 648.8,399.5 C648.8,401.1 644.9,402.1 644.3,403.2 C643.7,404.3 647.2,405.2 645.0,406.2 C642.8,407.2 636.9,408.1 630.8,409.2 C624.7,410.3 614.4,411.8 608.4,412.9 C602.4,414.0 597.6,414.9 594.9,415.9 C592.2,416.9 592.0,417.4 592.0,418.9 C592.0,420.4 593.4,423.0 594.9,424.9 C596.4,426.8 599.5,428.4 600.9,430.1 C602.3,431.8 602.8,433.4 603.2,435.3 C603.6,437.2 603.1,439.3 603.2,441.3 C603.3,443.3 604.4,445.3 603.9,447.3 C603.4,449.3 600.7,451.3 600.2,453.3 C599.7,455.3 599.5,457.8 600.9,459.3 C602.3,460.8 604.7,461.2 608.4,462.2 C612.1,463.2 619.3,463.8 623.3,465.2 C627.3,466.6 631.3,468.5 632.3,470.5 C633.3,472.5 631.2,474.8 629.3,477.2 C627.4,479.6 622.5,482.8 621.1,484.7 C619.7,486.6 622.0,487.2 621.1,488.4 C620.2,489.6 617.3,490.5 615.9,492.1 C614.5,493.7 612.1,495.9 612.9,498.1 C613.6,500.4 617.4,502.6 620.4,505.6 C623.4,508.6 627.6,512.9 630.8,516.1 C634.0,519.3 639.0,523.1 639.8,525.0 C640.5,526.9 639.3,526.0 635.3,527.3 C631.3,528.5 620.4,530.9 615.9,532.5 C611.4,534.1 609.8,535.2 608.4,537.0 C607.0,538.8 607.6,541.0 607.6,543.0 C607.6,545.0 608.3,548.0 608.4,549.0" fill="none" stroke="#b8228e" stroke-width="1.35" stroke-linejoin="round"/>
<path d="M277.4,566.0 C278.0,567.1 280.4,570.7 281.2,572.8 C281.9,574.9 281.4,577.1 281.9,578.8 C282.4,580.5 284.1,581.5 284.1,583.2 C284.2,584.9 282.4,586.2 282.2,589.2 C282.0,592.2 282.6,598.0 282.7,601.2 C282.8,604.4 282.1,606.4 282.7,608.6 C283.3,610.8 285.0,612.6 286.4,614.6 C287.8,616.6 290.1,618.1 290.9,620.6 C291.6,623.1 291.6,627.1 290.9,629.6 C290.1,632.1 287.5,633.0 286.4,635.5 C285.3,638.0 284.7,642.0 284.1,644.5 C283.5,647.0 282.4,648.0 282.7,650.5 C282.9,653.0 285.1,657.0 285.6,659.5 C286.1,662.0 285.9,663.2 285.6,665.4 C285.4,667.6 284.4,670.1 284.1,672.9 C283.9,675.6 283.2,679.1 284.1,681.9 C285.0,684.6 288.3,687.4 289.4,689.4 C290.5,691.4 291.1,692.1 290.9,693.8 C290.6,695.5 288.1,697.8 287.9,699.8 C287.6,701.8 289.5,703.8 289.4,705.8 C289.3,707.8 288.1,709.8 287.1,711.8 C286.1,713.8 284.4,715.8 283.4,717.8 C282.4,719.8 281.6,722.8 281.2,723.8" fill="none" stroke="#3a3a3a" stroke-width="1.1" stroke-linejoin="round"/>
<path d="M302.8,566.2 C303.2,566.8 304.9,568.4 305.1,570.0 C305.4,571.6 306.4,574.4 304.3,576.0 C302.2,577.6 296.4,578.5 292.4,579.7 C288.4,580.9 283.6,582.0 280.4,583.4 C277.1,584.8 274.5,586.1 272.9,587.9 C271.3,589.6 271.2,591.4 270.7,593.9 C270.2,596.4 270.1,599.9 270.0,602.9 C269.9,605.9 269.3,609.1 270.0,611.8 C270.7,614.5 273.2,617.3 274.4,619.3 C275.6,621.3 276.3,622.0 277.4,623.8 C278.5,625.5 279.2,628.0 281.2,629.8 C283.2,631.5 286.3,632.8 289.4,634.3 C292.5,635.8 296.2,637.0 299.8,638.7 C303.4,640.4 309.5,642.7 311.0,644.7 C312.5,646.7 310.2,648.7 308.8,650.7 C307.4,652.7 305.0,654.6 302.8,656.7 C300.6,658.8 296.3,661.4 295.4,663.4 C294.5,665.4 297.1,666.2 297.6,668.6 C298.1,671.0 297.6,674.6 298.3,677.6 C299.1,680.6 300.5,684.0 302.1,686.6 C303.7,689.2 308.5,691.6 308.1,693.3 C307.7,695.0 303.7,695.4 299.8,697.0 C295.9,698.6 289.4,701.1 284.9,703.0 C280.4,704.9 275.4,706.5 272.9,708.2 C270.4,710.0 270.5,711.9 270.0,713.5 C269.5,715.1 269.4,716.4 270.0,718.0 C270.6,719.6 273.1,722.3 273.7,723.2" fill="none" stroke="#2e9a32" stroke-width="1.35" stroke-linejoin="round"/>
<path d="M624.1,566.2 C623.9,567.1 622.0,569.4 622.6,571.5 C623.2,573.6 627.4,576.5 627.8,579.0 C628.2,581.5 625.8,583.9 624.8,586.4 C623.8,588.9 622.6,591.6 621.9,593.9 C621.2,596.1 619.9,598.1 620.4,599.9 C620.9,601.6 623.3,602.4 624.8,604.4 C626.3,606.4 629.5,609.8 629.3,611.8 C629.0,613.8 625.0,614.5 623.3,616.3 C621.6,618.0 619.1,620.0 618.9,622.3 C618.7,624.5 619.7,627.4 621.9,629.8 C624.1,632.2 631.3,633.8 632.3,636.5 C633.3,639.2 629.8,643.8 627.8,646.2 C625.8,648.6 622.1,649.0 620.4,650.7 C618.7,652.5 617.1,654.2 617.4,656.7 C617.6,659.2 619.4,662.6 621.9,665.6 C624.4,668.6 631.3,671.6 632.3,674.6 C633.3,677.6 628.8,680.6 627.8,683.6 C626.8,686.6 626.8,689.6 626.3,692.6 C625.8,695.6 624.5,699.0 624.8,701.5 C625.0,704.0 626.7,705.0 627.8,707.5 C628.9,710.0 631.4,713.8 631.6,716.5 C631.9,719.2 629.7,722.8 629.3,724.0" fill="none" stroke="#3a3a3a" stroke-width="1.1" stroke-linejoin="round"/>
<path d="M628.6,567.0 C628.5,568.0 627.9,571.4 627.8,573.0 C627.7,574.6 628.3,575.5 627.8,576.7 C627.3,577.9 626.5,578.5 624.8,580.4 C623.1,582.3 619.0,585.6 617.4,587.9 C615.8,590.1 614.6,591.9 615.1,593.9 C615.6,595.9 618.5,598.1 620.4,599.9 C622.3,601.6 624.6,603.0 626.3,604.4 C628.0,605.8 629.8,606.6 630.8,608.1 C631.8,609.6 633.0,611.4 632.3,613.3 C631.5,615.2 628.4,617.5 626.3,619.3 C624.2,621.0 621.6,621.9 619.6,623.8 C617.6,625.7 614.5,628.5 614.4,630.5 C614.3,632.5 616.4,634.2 618.9,635.7 C621.4,637.2 625.7,637.4 629.3,639.5 C632.9,641.6 639.1,646.3 640.5,648.5 C641.9,650.7 637.9,651.4 637.5,652.9 C637.1,654.4 639.0,655.9 638.3,657.4 C637.6,658.9 634.9,659.8 633.1,661.9 C631.4,664.0 629.2,667.9 627.8,670.1 C626.4,672.4 623.8,673.8 624.8,675.4 C625.8,677.0 630.7,678.1 633.8,679.8 C636.9,681.5 642.8,683.7 643.5,685.8 C644.2,687.9 640.9,690.5 638.3,692.6 C635.7,694.7 630.5,696.4 627.8,698.5 C625.1,700.6 624.3,703.2 621.9,705.3 C619.5,707.4 614.6,709.1 613.6,711.2 C612.6,713.3 615.0,715.9 615.9,718.0 C616.8,720.1 618.4,723.0 618.9,724.0" fill="none" stroke="#2e9a32" stroke-width="1.35" stroke-linejoin="round"/>
<path d="M277.4,742.3 C278.0,743.4 280.4,747.0 281.2,749.1 C281.9,751.2 281.4,753.4 281.9,755.1 C282.4,756.8 284.1,757.8 284.1,759.5 C284.2,761.2 282.4,762.5 282.2,765.5 C282.0,768.5 282.6,774.3 282.7,777.5 C282.8,780.7 282.1,782.7 282.7,784.9 C283.3,787.1 285.0,788.9 286.4,790.9 C287.8,792.9 290.1,794.4 290.9,796.9 C291.6,799.4 291.6,803.4 290.9,805.9 C290.1,808.4 287.5,809.3 286.4,811.8 C285.3,814.3 284.7,818.3 284.1,820.8 C283.5,823.3 282.4,824.3 282.7,826.8 C282.9,829.3 285.1,833.3 285.6,835.8 C286.1,838.3 285.9,839.5 285.6,841.7 C285.4,843.9 284.4,846.4 284.1,849.2 C283.9,851.9 283.2,855.4 284.1,858.2 C285.0,860.9 288.3,863.7 289.4,865.7 C290.5,867.7 291.1,868.4 290.9,870.1 C290.6,871.8 288.1,874.1 287.9,876.1 C287.6,878.1 289.5,880.1 289.4,882.1 C289.3,884.1 288.1,886.1 287.1,888.1 C286.1,890.1 284.4,892.1 283.4,894.1 C282.4,896.1 281.6,899.1 281.2,900.1" fill="none" stroke="#3a3a3a" stroke-width="1.1" stroke-linejoin="round"/>
<path d="M293.9,742.2 C292.4,743.3 287.6,747.1 284.9,749.0 C282.1,750.9 279.3,751.8 277.4,753.5 C275.5,755.2 274.4,757.7 273.7,759.4 C272.9,761.1 273.3,762.1 272.9,763.9 C272.5,765.6 271.1,767.9 271.4,769.9 C271.6,771.9 273.0,774.1 274.4,775.9 C275.8,777.6 277.9,779.2 279.7,780.4 C281.4,781.6 283.0,782.1 284.9,783.3 C286.8,784.5 289.8,785.5 290.9,787.8 C292.0,790.0 291.1,794.0 291.6,796.8 C292.1,799.5 293.1,802.2 293.9,804.3 C294.6,806.4 296.9,807.5 296.1,809.5 C295.4,811.5 291.0,813.6 289.4,816.2 C287.8,818.8 286.1,822.0 286.4,825.2 C286.6,828.5 289.1,832.5 290.9,835.7 C292.6,838.9 296.3,842.1 296.9,844.6 C297.5,847.1 294.7,849.0 294.6,850.6 C294.5,852.2 296.6,852.4 296.1,854.4 C295.6,856.4 294.7,860.2 291.6,862.6 C288.5,865.0 281.4,866.9 277.4,868.6 C273.4,870.3 269.7,871.0 267.7,873.0 C265.7,875.0 265.4,878.2 265.5,880.5 C265.6,882.8 266.3,884.5 268.5,886.5 C270.7,888.5 276.2,890.2 278.9,892.5 C281.6,894.8 283.9,898.8 284.9,900.0" fill="none" stroke="#c0302c" stroke-width="1.35" stroke-linejoin="round"/>
<path d="M624.1,742.5 C623.9,743.4 622.0,745.7 622.6,747.8 C623.2,749.9 627.4,752.8 627.8,755.3 C628.2,757.8 625.8,760.2 624.8,762.7 C623.8,765.2 622.6,767.9 621.9,770.2 C621.2,772.4 619.9,774.4 620.4,776.2 C620.9,777.9 623.3,778.7 624.8,780.7 C626.3,782.7 629.5,786.1 629.3,788.1 C629.0,790.1 625.0,790.8 623.3,792.6 C621.6,794.3 619.1,796.3 618.9,798.6 C618.7,800.8 619.7,803.7 621.9,806.1 C624.1,808.5 631.3,810.1 632.3,812.8 C633.3,815.5 629.8,820.1 627.8,822.5 C625.8,824.9 622.1,825.2 620.4,827.0 C618.7,828.8 617.1,830.5 617.4,833.0 C617.6,835.5 619.4,838.9 621.9,841.9 C624.4,844.9 631.3,847.9 632.3,850.9 C633.3,853.9 628.8,856.9 627.8,859.9 C626.8,862.9 626.8,865.9 626.3,868.9 C625.8,871.9 624.5,875.3 624.8,877.8 C625.0,880.3 626.7,881.3 627.8,883.8 C628.9,886.3 631.4,890.0 631.6,892.8 C631.9,895.5 629.7,899.0 629.3,900.3" fill="none" stroke="#3a3a3a" stroke-width="1.1" stroke-linejoin="round"/>
<path d="M615.1,742.2 C614.9,742.8 613.5,744.1 613.6,746.0 C613.7,747.9 615.6,751.3 615.9,753.5 C616.1,755.7 615.7,757.7 615.1,759.4 C614.5,761.1 612.0,762.6 612.1,763.9 C612.2,765.1 614.4,765.6 615.9,766.9 C617.4,768.1 621.1,769.9 621.1,771.4 C621.1,772.9 617.4,774.1 615.9,775.9 C614.4,777.6 611.9,779.9 612.1,781.9 C612.4,783.9 615.8,785.6 617.4,787.8 C619.0,790.0 620.2,793.3 621.9,795.3 C623.6,797.3 626.1,798.0 627.8,799.8 C629.5,801.5 631.3,804.0 632.3,805.8 C633.3,807.5 633.2,808.8 633.8,810.3 C634.4,811.8 635.4,813.0 636.1,814.7 C636.9,816.4 638.5,818.7 638.3,820.7 C638.0,822.7 635.1,824.5 634.6,826.7 C634.1,829.0 634.8,832.2 635.3,834.2 C635.8,836.2 637.8,837.2 637.5,838.7 C637.2,840.2 635.0,841.4 633.8,843.1 C632.6,844.8 630.9,846.6 630.1,849.1 C629.4,851.6 631.9,855.6 629.3,858.1 C626.7,860.6 617.4,861.9 614.4,864.1 C611.4,866.3 612.1,869.0 611.4,871.5 C610.6,874.0 610.6,876.8 609.9,879.0 C609.1,881.2 608.1,883.0 606.9,885.0 C605.6,887.0 603.8,888.5 602.4,891.0 C601.0,893.5 599.3,898.5 598.7,900.0" fill="none" stroke="#c0302c" stroke-width="1.35" stroke-linejoin="round"/>
<path d="M277.4,918.1 C278.0,919.2 280.4,922.8 281.2,924.9 C281.9,927.0 281.4,929.2 281.9,930.9 C282.4,932.6 284.1,933.6 284.1,935.3 C284.2,937.0 282.4,938.3 282.2,941.3 C282.0,944.3 282.6,950.1 282.7,953.3 C282.8,956.5 282.1,958.5 282.7,960.7 C283.3,962.9 285.0,964.7 286.4,966.7 C287.8,968.7 290.1,970.2 290.9,972.7 C291.6,975.2 291.6,979.2 290.9,981.7 C290.1,984.2 287.5,985.1 286.4,987.6 C285.3,990.1 284.7,994.1 284.1,996.6 C283.5,999.1 282.4,1000.1 282.7,1002.6 C282.9,1005.1 285.1,1009.1 285.6,1011.6 C286.1,1014.1 285.9,1015.3 285.6,1017.5 C285.4,1019.7 284.4,1022.2 284.1,1025.0 C283.9,1027.8 283.2,1031.2 284.1,1034.0 C285.0,1036.8 288.3,1039.5 289.4,1041.5 C290.5,1043.5 291.1,1044.2 290.9,1045.9 C290.6,1047.6 288.1,1049.9 287.9,1051.9 C287.6,1053.9 289.5,1055.9 289.4,1057.9 C289.3,1059.9 288.1,1061.9 287.1,1063.9 C286.1,1065.9 284.4,1067.9 283.4,1069.9 C282.4,1071.9 281.6,1074.9 281.2,1075.9" fill="none" stroke="#111" stroke-width="1.6" stroke-linejoin="round"/>
<path d="M626.8,918.3 C626.0,919.7 622.0,923.9 622.2,926.7 C622.5,929.5 627.7,932.4 628.3,935.2 C628.9,938.0 627.3,940.4 626.0,943.6 C624.7,946.8 620.9,951.2 620.6,954.3 C620.4,957.4 623.1,959.6 624.5,962.0 C625.9,964.4 629.3,966.9 629.0,968.9 C628.7,970.9 624.5,972.3 622.9,974.2 C621.2,976.1 619.4,978.4 619.1,980.4 C618.9,982.4 619.2,984.3 621.4,986.5 C623.6,988.7 630.8,990.9 632.1,993.4 C633.4,995.9 630.0,999.6 629.0,1001.8 C628.0,1004.0 628.0,1004.6 626.0,1006.4 C624.0,1008.2 617.9,1010.0 616.8,1012.6 C615.6,1015.2 616.5,1018.7 619.1,1021.8 C621.7,1024.9 630.3,1028.5 632.1,1031.0 C633.9,1033.5 630.6,1034.5 629.8,1037.1 C629.0,1039.6 628.1,1043.8 627.5,1046.3 C626.9,1048.8 626.5,1050.4 626.0,1052.4 C625.5,1054.5 624.0,1056.0 624.5,1058.6 C625.0,1061.1 627.7,1064.9 629.0,1067.7 C630.3,1070.5 631.6,1074.1 632.1,1075.4" fill="none" stroke="#111" stroke-width="1.6" stroke-linejoin="round"/>
</svg></body></html>
